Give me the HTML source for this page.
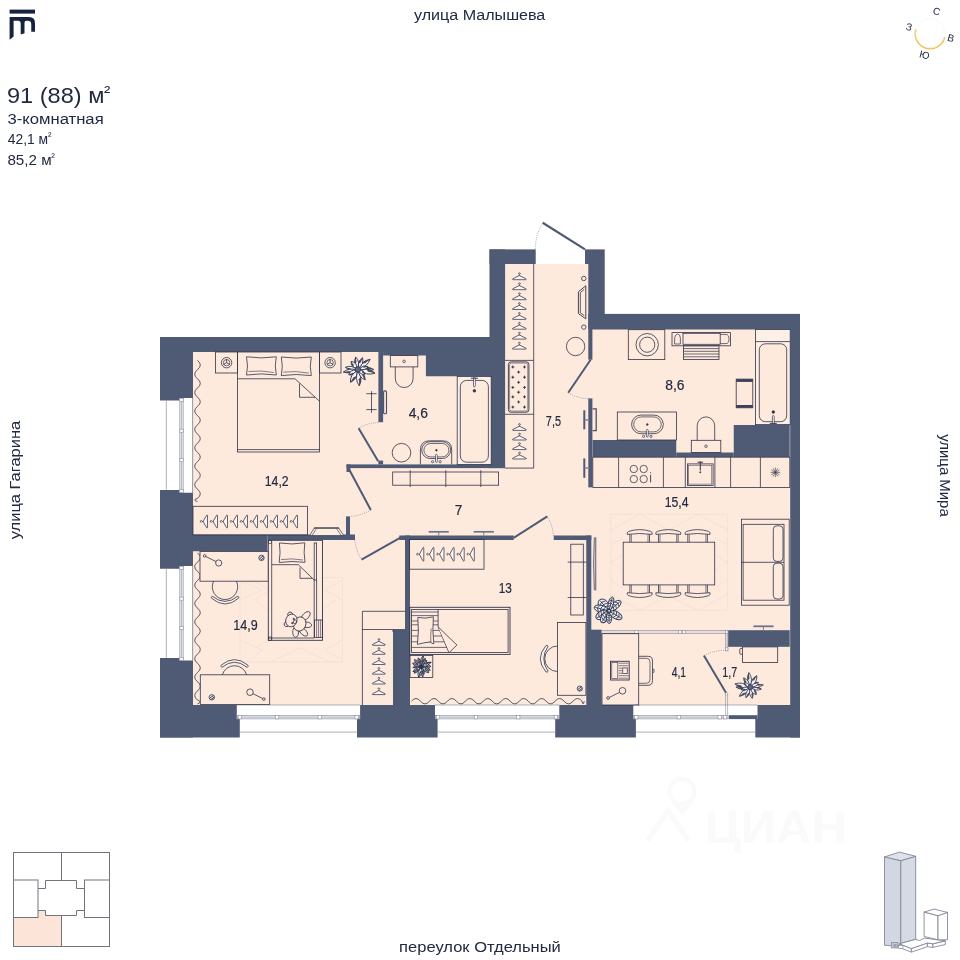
<!DOCTYPE html>
<html><head><meta charset="utf-8"><title>plan</title>
<style>
html,body{margin:0;padding:0;background:#fff;}
body{width:960px;height:960px;overflow:hidden;font-family:"Liberation Sans",sans-serif;}
svg{display:block;will-change:transform;}
svg text{font-family:"Liberation Sans",sans-serif;}
</style></head><body>
<svg width="960" height="960" viewBox="0 0 960 960">
<rect x="0" y="0" width="960" height="960" fill="#ffffff"/>
<polygon points="160.00,337.00 489.50,337.00 489.50,249.40 604.70,249.40 604.70,314.30 800.00,314.30 800.00,705.00 160.00,705.00" fill="#fee9dd" stroke="none" stroke-width="0"/>
<rect x="535.70" y="240.00" width="49.30" height="24.00" fill="#ffffff" />
<rect x="160.00" y="337.00" width="33.00" height="400.50" fill="#4f5b75" />
<polygon points="160.00,337.00 490.00,337.00 490.00,376.25 425.90,376.25 425.90,355.60 383.10,355.60 383.10,351.90 160.00,351.90" fill="#4f5b75" stroke="none" stroke-width="0"/>
<rect x="489.50" y="249.40" width="15.60" height="218.70" fill="#4f5b75" />
<rect x="489.50" y="249.40" width="46.20" height="14.60" fill="#4f5b75" />
<rect x="585.00" y="249.40" width="19.70" height="14.60" fill="#4f5b75" />
<rect x="588.30" y="264.00" width="16.40" height="50.30" fill="#4f5b75" />
<rect x="588.30" y="314.30" width="4.10" height="45.40" fill="#4f5b75" />
<rect x="588.30" y="398.40" width="4.10" height="89.00" fill="#4f5b75" />
<rect x="588.30" y="313.90" width="211.70" height="15.60" fill="#4f5b75" />
<rect x="790.20" y="314.30" width="9.80" height="423.20" fill="#4f5b75" />
<rect x="733.75" y="425.00" width="55.95" height="32.00" fill="#4f5b75" />
<rect x="592.60" y="440.00" width="83.65" height="17.00" fill="#4f5b75" />
<rect x="676.25" y="452.50" width="57.50" height="4.50" fill="#4f5b75" />
<rect x="378.40" y="351.90" width="4.70" height="70.30" fill="#4f5b75" />
<rect x="378.40" y="460.60" width="4.70" height="3.80" fill="#4f5b75" />
<rect x="346.50" y="464.40" width="158.60" height="3.70" fill="#4f5b75" />
<rect x="346.50" y="464.40" width="3.80" height="7.60" fill="#4f5b75" />
<rect x="346.00" y="516.40" width="4.00" height="18.60" fill="#4f5b75" />
<rect x="160.00" y="534.50" width="107.50" height="16.75" fill="#4f5b75" />
<rect x="267.50" y="534.50" width="87.50" height="5.50" fill="#4f5b75" />
<rect x="399.25" y="535.50" width="114.50" height="4.50" fill="#4f5b75" />
<rect x="405.00" y="535.50" width="5.00" height="94.50" fill="#4f5b75" />
<rect x="393.00" y="630.00" width="17.00" height="75.00" fill="#4f5b75" />
<rect x="553.75" y="535.50" width="37.55" height="4.50" fill="#4f5b75" />
<rect x="586.30" y="535.50" width="5.00" height="94.50" fill="#4f5b75" />
<rect x="586.30" y="629.70" width="15.40" height="75.30" fill="#4f5b75" />
<rect x="728.10" y="630.20" width="61.60" height="16.60" fill="#4f5b75" />
<polygon points="160.00,705.00 236.80,705.00 236.80,719.10 239.80,719.10 239.80,737.50 160.00,737.50" fill="#4f5b75" stroke="none" stroke-width="0"/>
<polygon points="360.10,705.00 435.00,705.00 435.00,719.10 437.60,719.10 437.60,737.50 357.00,737.50 357.00,719.10 360.10,719.10" fill="#4f5b75" stroke="none" stroke-width="0"/>
<polygon points="559.30,705.00 633.30,705.00 633.30,719.10 635.90,719.10 635.90,737.50 555.20,737.50 555.20,719.10 559.30,719.10" fill="#4f5b75" stroke="none" stroke-width="0"/>
<polygon points="757.50,705.00 800.00,705.00 800.00,737.50 755.30,737.50 755.30,719.10 757.50,719.10" fill="#4f5b75" stroke="none" stroke-width="0"/>
<rect x="729.00" y="715.20" width="28.50" height="3.90" fill="#4f5b75" />
<polygon points="159.00,400.60 179.50,400.60 179.50,398.00 192.60,398.00 192.60,492.80 179.50,492.80 179.50,489.90 159.00,489.90" fill="#ffffff" stroke="none" stroke-width="0"/>
<line x1="166.30" y1="400.60" x2="166.30" y2="489.90" stroke="#8b8f9c" stroke-width="0.7" />
<line x1="192.70" y1="398.00" x2="192.70" y2="492.80" stroke="#8b8f9c" stroke-width="0.7" />
<rect x="179.80" y="398.30" width="3.40" height="94.20" fill="#e6e8ef" stroke="#8b8f9c" stroke-width="0.6" rx="0"/>
<line x1="181.50" y1="398.00" x2="181.50" y2="492.80" stroke="#8b8f9c" stroke-width="0.5" />
<rect x="179.80" y="398.30" width="3.40" height="3.00" fill="#ffffff" stroke="#8b8f9c" stroke-width="0.6" rx="0"/>
<rect x="179.80" y="429.21" width="3.40" height="3.00" fill="#ffffff" stroke="#8b8f9c" stroke-width="0.6" rx="0"/>
<rect x="179.80" y="458.59" width="3.40" height="3.00" fill="#ffffff" stroke="#8b8f9c" stroke-width="0.6" rx="0"/>
<rect x="179.80" y="489.50" width="3.40" height="3.00" fill="#ffffff" stroke="#8b8f9c" stroke-width="0.6" rx="0"/>
<polygon points="159.00,568.70 179.50,568.70 179.50,566.00 192.60,566.00 192.60,660.60 179.50,660.60 179.50,658.00 159.00,658.00" fill="#ffffff" stroke="none" stroke-width="0"/>
<line x1="166.30" y1="568.70" x2="166.30" y2="658.00" stroke="#8b8f9c" stroke-width="0.7" />
<line x1="192.70" y1="566.00" x2="192.70" y2="660.60" stroke="#8b8f9c" stroke-width="0.7" />
<rect x="179.80" y="566.30" width="3.40" height="94.00" fill="#e6e8ef" stroke="#8b8f9c" stroke-width="0.6" rx="0"/>
<line x1="181.50" y1="566.00" x2="181.50" y2="660.60" stroke="#8b8f9c" stroke-width="0.5" />
<rect x="179.80" y="566.30" width="3.40" height="3.00" fill="#ffffff" stroke="#8b8f9c" stroke-width="0.6" rx="0"/>
<rect x="179.80" y="597.14" width="3.40" height="3.00" fill="#ffffff" stroke="#8b8f9c" stroke-width="0.6" rx="0"/>
<rect x="179.80" y="626.46" width="3.40" height="3.00" fill="#ffffff" stroke="#8b8f9c" stroke-width="0.6" rx="0"/>
<rect x="179.80" y="657.30" width="3.40" height="3.00" fill="#ffffff" stroke="#8b8f9c" stroke-width="0.6" rx="0"/>
<line x1="236.80" y1="705.00" x2="360.10" y2="705.00" stroke="#8b8f9c" stroke-width="0.7" />
<line x1="239.80" y1="732.10" x2="357.00" y2="732.10" stroke="#8b8f9c" stroke-width="0.7" />
<rect x="237.10" y="715.40" width="122.70" height="3.50" fill="#e6e8ef" stroke="#8b8f9c" stroke-width="0.6" rx="0"/>
<line x1="236.80" y1="717.15" x2="360.10" y2="717.15" stroke="#8b8f9c" stroke-width="0.5" />
<rect x="238.10" y="715.40" width="3.40" height="3.50" fill="#ffffff" stroke="#8b8f9c" stroke-width="0.6" rx="0"/>
<rect x="275.40" y="715.40" width="3.40" height="3.50" fill="#ffffff" stroke="#8b8f9c" stroke-width="0.6" rx="0"/>
<rect x="318.10" y="715.40" width="3.40" height="3.50" fill="#ffffff" stroke="#8b8f9c" stroke-width="0.6" rx="0"/>
<rect x="355.00" y="715.40" width="3.40" height="3.50" fill="#ffffff" stroke="#8b8f9c" stroke-width="0.6" rx="0"/>
<line x1="435.00" y1="705.00" x2="559.30" y2="705.00" stroke="#8b8f9c" stroke-width="0.7" />
<line x1="437.60" y1="732.10" x2="555.20" y2="732.10" stroke="#8b8f9c" stroke-width="0.7" />
<rect x="435.30" y="715.40" width="123.70" height="3.50" fill="#e6e8ef" stroke="#8b8f9c" stroke-width="0.6" rx="0"/>
<line x1="435.00" y1="717.15" x2="559.30" y2="717.15" stroke="#8b8f9c" stroke-width="0.5" />
<rect x="436.30" y="715.40" width="3.40" height="3.50" fill="#ffffff" stroke="#8b8f9c" stroke-width="0.6" rx="0"/>
<rect x="474.20" y="715.40" width="3.40" height="3.50" fill="#ffffff" stroke="#8b8f9c" stroke-width="0.6" rx="0"/>
<rect x="516.50" y="715.40" width="3.40" height="3.50" fill="#ffffff" stroke="#8b8f9c" stroke-width="0.6" rx="0"/>
<rect x="554.20" y="715.40" width="3.40" height="3.50" fill="#ffffff" stroke="#8b8f9c" stroke-width="0.6" rx="0"/>
<line x1="633.30" y1="705.00" x2="757.50" y2="705.00" stroke="#8b8f9c" stroke-width="0.7" />
<line x1="635.90" y1="732.10" x2="755.30" y2="732.10" stroke="#8b8f9c" stroke-width="0.7" />
<rect x="633.60" y="715.40" width="94.60" height="3.50" fill="#e6e8ef" stroke="#8b8f9c" stroke-width="0.6" rx="0"/>
<line x1="633.30" y1="717.15" x2="728.50" y2="717.15" stroke="#8b8f9c" stroke-width="0.5" />
<rect x="634.60" y="715.40" width="3.40" height="3.50" fill="#ffffff" stroke="#8b8f9c" stroke-width="0.6" rx="0"/>
<rect x="677.10" y="715.40" width="3.40" height="3.50" fill="#ffffff" stroke="#8b8f9c" stroke-width="0.6" rx="0"/>
<rect x="717.90" y="715.40" width="3.40" height="3.50" fill="#ffffff" stroke="#8b8f9c" stroke-width="0.6" rx="0"/>
<rect x="723.40" y="715.40" width="3.40" height="3.50" fill="#ffffff" stroke="#8b8f9c" stroke-width="0.6" rx="0"/>
<path d="M 197.50 360.40 Q 203.10 365.00 197.50 369.60 Q 191.90 374.20 197.50 378.80 Q 203.10 383.40 197.50 388.00 Q 191.90 392.60 197.50 397.20 Q 203.10 401.80 197.50 406.40 Q 191.90 411.00 197.50 415.60 Q 203.10 420.20 197.50 424.80 Q 191.90 429.40 197.50 434.00 Q 203.10 438.60 197.50 443.20 Q 191.90 447.80 197.50 452.40 Q 203.10 457.00 197.50 461.60 Q 191.90 466.20 197.50 470.80 Q 203.10 475.40 197.50 480.00 Q 191.90 484.60 197.50 489.20 Q 203.10 493.80 197.50 498.40 Q 191.90 499.95 197.50 501.50 " fill="none" stroke="#2f3349" stroke-width="0.8" />
<rect x="215.50" y="352.00" width="22.00" height="21.00" fill="none" stroke="#2f3349" stroke-width="0.8" rx="0"/>
<rect x="319.50" y="352.00" width="21.50" height="21.00" fill="none" stroke="#2f3349" stroke-width="0.8" rx="0"/>
<circle cx="226.60" cy="362.70" r="5.20" fill="none" stroke="#2f3349" stroke-width="0.8"/>
<circle cx="226.60" cy="362.70" r="3.20" fill="none" stroke="#2f3349" stroke-width="0.7"/>
<line x1="226.60" y1="362.70" x2="226.60" y2="359.10" stroke="#2f3349" stroke-width="0.8" />
<line x1="226.60" y1="362.70" x2="223.48" y2="364.50" stroke="#2f3349" stroke-width="0.8" />
<line x1="226.60" y1="362.70" x2="229.72" y2="364.50" stroke="#2f3349" stroke-width="0.8" />
<circle cx="330.10" cy="362.70" r="5.20" fill="none" stroke="#2f3349" stroke-width="0.8"/>
<circle cx="330.10" cy="362.70" r="3.20" fill="none" stroke="#2f3349" stroke-width="0.7"/>
<line x1="330.10" y1="362.70" x2="330.10" y2="359.10" stroke="#2f3349" stroke-width="0.8" />
<line x1="330.10" y1="362.70" x2="326.98" y2="364.50" stroke="#2f3349" stroke-width="0.8" />
<line x1="330.10" y1="362.70" x2="333.22" y2="364.50" stroke="#2f3349" stroke-width="0.8" />
<rect x="237.50" y="352.00" width="82.00" height="100.00" fill="none" stroke="#2f3349" stroke-width="0.8" rx="0"/>
<line x1="237.50" y1="449.60" x2="319.50" y2="449.60" stroke="#2f3349" stroke-width="0.8" />
<path d="M 237.5 378.8 L 295 378.8 L 319.3 401" fill="none" stroke="#2f3349" stroke-width="0.8" />
<path d="M 299.5 383.5 L 299.5 397.3 L 315 397.3" fill="none" stroke="#2f3349" stroke-width="0.8" />
<path d="M 246.50 356.80 Q 261.40 359.00 276.30 356.80 Q 274.30 365.90 276.30 375.00 Q 261.40 372.80 246.50 375.00 Q 248.50 365.90 246.50 356.80 Z" fill="none" stroke="#2f3349" stroke-width="0.8" stroke-linejoin="round"/>
<path d="M 248.50 371.50 Q 261.40 370.00 273.80 372.50" fill="none" stroke="#2f3349" stroke-width="0.6" />
<path d="M 281.30 357.00 Q 296.30 359.20 311.30 357.00 Q 309.30 366.30 311.30 375.60 Q 296.30 373.40 281.30 375.60 Q 283.30 366.30 281.30 357.00 Z" fill="none" stroke="#2f3349" stroke-width="0.8" stroke-linejoin="round"/>
<path d="M 283.30 372.10 Q 296.30 370.60 308.80 373.10" fill="none" stroke="#2f3349" stroke-width="0.6" />
<g transform="translate(357.90,369.50) rotate(0) scale(1.06)"><g transform="rotate(0)"><path d="M 1.5 0 Q 8.25 -4.16 15.00 0 Q 8.25 4.16 1.5 0 Z" fill="#f4f1f3" stroke="#2f3349" stroke-width="0.8"/><path d="M 6.75 -1.95 Q 10.50 -2.60 15.00 0 L 9.00 0 Z" fill="#2f3349" stroke="none" opacity="0.85"/></g><g transform="rotate(12)"><path d="M 1.5 0 Q 9.08 -4.48 16.50 0 Q 9.08 4.48 1.5 0 Z" fill="#f4f1f3" stroke="#2f3349" stroke-width="0.8"/><path d="M 7.42 -2.10 Q 11.55 -2.80 16.50 0 L 9.90 0 Z" fill="#2f3349" stroke="none" opacity="0.85"/></g><g transform="rotate(-40)"><path d="M 1.5 0 Q 8.25 -3.84 15.00 0 Q 8.25 3.84 1.5 0 Z" fill="#f4f1f3" stroke="#2f3349" stroke-width="0.8"/><path d="M 6.75 -1.80 Q 10.50 -2.40 15.00 0 L 9.00 0 Z" fill="#2f3349" stroke="none" opacity="0.85"/></g><g transform="rotate(-68)"><path d="M 1.5 0 Q 6.60 -3.52 12.00 0 Q 6.60 3.52 1.5 0 Z" fill="#f4f1f3" stroke="#2f3349" stroke-width="0.8"/><path d="M 5.40 -1.65 Q 8.40 -2.20 12.00 0 L 7.20 0 Z" fill="#2f3349" stroke="none" opacity="0.85"/></g><g transform="rotate(-100)"><path d="M 1.5 0 Q 6.60 -3.52 12.00 0 Q 6.60 3.52 1.5 0 Z" fill="#f4f1f3" stroke="#2f3349" stroke-width="0.8"/><path d="M 5.40 -1.65 Q 8.40 -2.20 12.00 0 L 7.20 0 Z" fill="#2f3349" stroke="none" opacity="0.85"/></g><g transform="rotate(-130)"><path d="M 1.5 0 Q 5.50 -3.84 10.00 0 Q 5.50 3.84 1.5 0 Z" fill="#f4f1f3" stroke="#2f3349" stroke-width="0.8"/><path d="M 4.50 -1.80 Q 7.00 -2.40 10.00 0 L 6.00 0 Z" fill="#2f3349" stroke="none" opacity="0.85"/></g><g transform="rotate(-170)"><path d="M 1.5 0 Q 6.60 -3.52 12.00 0 Q 6.60 3.52 1.5 0 Z" fill="#f4f1f3" stroke="#2f3349" stroke-width="0.8"/><path d="M 5.40 -1.65 Q 8.40 -2.20 12.00 0 L 7.20 0 Z" fill="#2f3349" stroke="none" opacity="0.85"/></g><g transform="rotate(170)"><path d="M 1.5 0 Q 7.70 -3.20 14.00 0 Q 7.70 3.20 1.5 0 Z" fill="#f4f1f3" stroke="#2f3349" stroke-width="0.8"/><path d="M 6.30 -1.50 Q 9.80 -2.00 14.00 0 L 8.40 0 Z" fill="#2f3349" stroke="none" opacity="0.85"/></g><g transform="rotate(150)"><path d="M 1.5 0 Q 5.50 -3.84 10.00 0 Q 5.50 3.84 1.5 0 Z" fill="#f4f1f3" stroke="#2f3349" stroke-width="0.8"/><path d="M 4.50 -1.80 Q 7.00 -2.40 10.00 0 L 6.00 0 Z" fill="#2f3349" stroke="none" opacity="0.85"/></g><g transform="rotate(120)"><path d="M 1.5 0 Q 7.70 -4.16 14.00 0 Q 7.70 4.16 1.5 0 Z" fill="#f4f1f3" stroke="#2f3349" stroke-width="0.8"/><path d="M 6.30 -1.95 Q 9.80 -2.60 14.00 0 L 8.40 0 Z" fill="#2f3349" stroke="none" opacity="0.85"/></g><g transform="rotate(85)"><path d="M 1.5 0 Q 8.53 -4.16 15.50 0 Q 8.53 4.16 1.5 0 Z" fill="#f4f1f3" stroke="#2f3349" stroke-width="0.8"/><path d="M 6.98 -1.95 Q 10.85 -2.60 15.50 0 L 9.30 0 Z" fill="#2f3349" stroke="none" opacity="0.85"/></g><g transform="rotate(55)"><path d="M 1.5 0 Q 6.60 -3.52 12.00 0 Q 6.60 3.52 1.5 0 Z" fill="#f4f1f3" stroke="#2f3349" stroke-width="0.8"/><path d="M 5.40 -1.65 Q 8.40 -2.20 12.00 0 L 7.20 0 Z" fill="#2f3349" stroke="none" opacity="0.85"/></g><g transform="rotate(-15)"><path d="M 1.5 0 Q 5.50 -3.20 10.00 0 Q 5.50 3.20 1.5 0 Z" fill="#f4f1f3" stroke="#2f3349" stroke-width="0.8"/><path d="M 4.50 -1.50 Q 7.00 -2.00 10.00 0 L 6.00 0 Z" fill="#2f3349" stroke="none" opacity="0.85"/></g><g transform="rotate(35)"><path d="M 1.5 0 Q 4.40 -3.20 8.00 0 Q 4.40 3.20 1.5 0 Z" fill="#f4f1f3" stroke="#2f3349" stroke-width="0.8"/><path d="M 3.60 -1.50 Q 5.60 -2.00 8.00 0 L 4.80 0 Z" fill="#2f3349" stroke="none" opacity="0.85"/></g><circle cx="0" cy="0" r="2.6" fill="#5b657f" stroke="#2f3349" stroke-width="0.6"/></g>
<line x1="371.50" y1="391.20" x2="371.50" y2="412.80" stroke="#2f3349" stroke-width="0.8" />
<line x1="366.30" y1="393.70" x2="376.60" y2="393.70" stroke="#2f3349" stroke-width="0.8" />
<line x1="366.30" y1="409.60" x2="376.60" y2="409.60" stroke="#2f3349" stroke-width="0.8" />
<rect x="193.00" y="506.30" width="114.50" height="28.70" fill="none" stroke="#2f3349" stroke-width="0.8" rx="0"/>
<g transform="translate(205.30,521.50) rotate(-90)"><path d="M -6.20 1.30 L 0 -2.20 L 6.20 1.30 Q 7.10 1.90 6.10 2.20 L -6.10 2.20 Q -7.10 1.90 -6.20 1.30 Z" fill="#fff4ee" stroke="#2f3349" stroke-width="0.75" stroke-linejoin="round"/><path d="M 0 -2.20 L 0 -3.10 C 1.5 -3.50 1.3 -5.10 0 -5.00 C -0.7 -4.95 -1.0 -4.55 -0.9 -4.20" fill="none" stroke="#2f3349" stroke-width="0.75" stroke-linecap="round"/></g>
<g transform="translate(215.30,521.50) rotate(-90)"><path d="M -6.20 1.30 L 0 -2.20 L 6.20 1.30 Q 7.10 1.90 6.10 2.20 L -6.10 2.20 Q -7.10 1.90 -6.20 1.30 Z" fill="#fff4ee" stroke="#2f3349" stroke-width="0.75" stroke-linejoin="round"/><path d="M 0 -2.20 L 0 -3.10 C 1.5 -3.50 1.3 -5.10 0 -5.00 C -0.7 -4.95 -1.0 -4.55 -0.9 -4.20" fill="none" stroke="#2f3349" stroke-width="0.75" stroke-linecap="round"/></g>
<g transform="translate(225.30,521.50) rotate(-90)"><path d="M -6.20 1.30 L 0 -2.20 L 6.20 1.30 Q 7.10 1.90 6.10 2.20 L -6.10 2.20 Q -7.10 1.90 -6.20 1.30 Z" fill="#fff4ee" stroke="#2f3349" stroke-width="0.75" stroke-linejoin="round"/><path d="M 0 -2.20 L 0 -3.10 C 1.5 -3.50 1.3 -5.10 0 -5.00 C -0.7 -4.95 -1.0 -4.55 -0.9 -4.20" fill="none" stroke="#2f3349" stroke-width="0.75" stroke-linecap="round"/></g>
<g transform="translate(235.30,521.50) rotate(-90)"><path d="M -6.20 1.30 L 0 -2.20 L 6.20 1.30 Q 7.10 1.90 6.10 2.20 L -6.10 2.20 Q -7.10 1.90 -6.20 1.30 Z" fill="#fff4ee" stroke="#2f3349" stroke-width="0.75" stroke-linejoin="round"/><path d="M 0 -2.20 L 0 -3.10 C 1.5 -3.50 1.3 -5.10 0 -5.00 C -0.7 -4.95 -1.0 -4.55 -0.9 -4.20" fill="none" stroke="#2f3349" stroke-width="0.75" stroke-linecap="round"/></g>
<g transform="translate(245.30,521.50) rotate(-90)"><path d="M -6.20 1.30 L 0 -2.20 L 6.20 1.30 Q 7.10 1.90 6.10 2.20 L -6.10 2.20 Q -7.10 1.90 -6.20 1.30 Z" fill="#fff4ee" stroke="#2f3349" stroke-width="0.75" stroke-linejoin="round"/><path d="M 0 -2.20 L 0 -3.10 C 1.5 -3.50 1.3 -5.10 0 -5.00 C -0.7 -4.95 -1.0 -4.55 -0.9 -4.20" fill="none" stroke="#2f3349" stroke-width="0.75" stroke-linecap="round"/></g>
<g transform="translate(255.30,521.50) rotate(-90)"><path d="M -6.20 1.30 L 0 -2.20 L 6.20 1.30 Q 7.10 1.90 6.10 2.20 L -6.10 2.20 Q -7.10 1.90 -6.20 1.30 Z" fill="#fff4ee" stroke="#2f3349" stroke-width="0.75" stroke-linejoin="round"/><path d="M 0 -2.20 L 0 -3.10 C 1.5 -3.50 1.3 -5.10 0 -5.00 C -0.7 -4.95 -1.0 -4.55 -0.9 -4.20" fill="none" stroke="#2f3349" stroke-width="0.75" stroke-linecap="round"/></g>
<g transform="translate(265.30,521.50) rotate(-90)"><path d="M -6.20 1.30 L 0 -2.20 L 6.20 1.30 Q 7.10 1.90 6.10 2.20 L -6.10 2.20 Q -7.10 1.90 -6.20 1.30 Z" fill="#fff4ee" stroke="#2f3349" stroke-width="0.75" stroke-linejoin="round"/><path d="M 0 -2.20 L 0 -3.10 C 1.5 -3.50 1.3 -5.10 0 -5.00 C -0.7 -4.95 -1.0 -4.55 -0.9 -4.20" fill="none" stroke="#2f3349" stroke-width="0.75" stroke-linecap="round"/></g>
<g transform="translate(275.30,521.50) rotate(-90)"><path d="M -6.20 1.30 L 0 -2.20 L 6.20 1.30 Q 7.10 1.90 6.10 2.20 L -6.10 2.20 Q -7.10 1.90 -6.20 1.30 Z" fill="#fff4ee" stroke="#2f3349" stroke-width="0.75" stroke-linejoin="round"/><path d="M 0 -2.20 L 0 -3.10 C 1.5 -3.50 1.3 -5.10 0 -5.00 C -0.7 -4.95 -1.0 -4.55 -0.9 -4.20" fill="none" stroke="#2f3349" stroke-width="0.75" stroke-linecap="round"/></g>
<g transform="translate(285.30,521.50) rotate(-90)"><path d="M -6.20 1.30 L 0 -2.20 L 6.20 1.30 Q 7.10 1.90 6.10 2.20 L -6.10 2.20 Q -7.10 1.90 -6.20 1.30 Z" fill="#fff4ee" stroke="#2f3349" stroke-width="0.75" stroke-linejoin="round"/><path d="M 0 -2.20 L 0 -3.10 C 1.5 -3.50 1.3 -5.10 0 -5.00 C -0.7 -4.95 -1.0 -4.55 -0.9 -4.20" fill="none" stroke="#2f3349" stroke-width="0.75" stroke-linecap="round"/></g>
<g transform="translate(295.30,521.50) rotate(-90)"><path d="M -6.20 1.30 L 0 -2.20 L 6.20 1.30 Q 7.10 1.90 6.10 2.20 L -6.10 2.20 Q -7.10 1.90 -6.20 1.30 Z" fill="#fff4ee" stroke="#2f3349" stroke-width="0.75" stroke-linejoin="round"/><path d="M 0 -2.20 L 0 -3.10 C 1.5 -3.50 1.3 -5.10 0 -5.00 C -0.7 -4.95 -1.0 -4.55 -0.9 -4.20" fill="none" stroke="#2f3349" stroke-width="0.75" stroke-linecap="round"/></g>
<path d="M 309.5 535.6 L 314.4 527.9 L 338.6 527.9 L 343.8 535.6 Z" fill="#fdeee2" stroke="#2f3349" stroke-width="0.7" />
<path d="M 312 535.6 L 316.4 528.6 M 341.2 535.6 L 336.6 528.6" fill="none" stroke="#2f3349" stroke-width="0.6" />
<line x1="314.00" y1="528.10" x2="339.00" y2="528.10" stroke="#4d4f63" stroke-width="1.3" />
<line x1="349.20" y1="469.50" x2="370.80" y2="510.00" stroke="#4f5b75" stroke-width="2.0" stroke-linecap="butt"/>
<path d="M 370.80 510.00 A 45.90 45.90 0 0 1 350.00 516.40" fill="none" stroke="#6a738a" stroke-width="0.6" stroke-dasharray="1 1.2"/>
<text x="264.78" y="485.60" font-size="14.00" textLength="23.95" lengthAdjust="spacingAndGlyphs" fill="#222a42" stroke="#222a42" stroke-width="0.18" >14,2</text>
<rect x="383.60" y="390.90" width="2.90" height="22.90" fill="none" stroke="#4d4f63" stroke-width="1.1" rx="1.0"/>
<rect x="390.30" y="355.60" width="27.50" height="11.30" fill="none" stroke="#2f3349" stroke-width="0.8" rx="0"/>
<circle cx="404.10" cy="361.40" r="1.30" fill="none" stroke="#2f3349" stroke-width="0.7"/>
<path d="M 395.3 366.9 L 395.3 378.6 A 8.9 8.9 0 0 0 413.1 378.6 L 413.1 366.9" fill="none" stroke="#2f3349" stroke-width="0.8" />
<circle cx="401.50" cy="452.70" r="9.30" fill="none" stroke="#2f3349" stroke-width="0.8"/>
<path d="M 420.4 464.4 L 420.4 450 Q 420.4 440.8 429.6 440.8 L 442.5 440.8 Q 451.7 440.8 451.7 450 L 451.7 464.4" fill="none" stroke="#2f3349" stroke-width="0.8" />
<rect x="421.70" y="441.70" width="29.00" height="16.80" fill="none" stroke="#2f3349" stroke-width="0.8" rx="8.4"/>
<rect x="423.90" y="443.50" width="25.00" height="13.40" fill="none" stroke="#2f3349" stroke-width="0.7" rx="6.7"/>
<circle cx="436.40" cy="450.20" r="1.00" fill="#2f3349" stroke="#2f3349" stroke-width="0.3"/>
<rect x="435.50" y="454.40" width="1.80" height="8.00" fill="#ffffff" stroke="#2f3349" stroke-width="0.7" rx="0.9"/>
<circle cx="432.60" cy="461.70" r="1.10" fill="none" stroke="#2f3349" stroke-width="0.7"/>
<circle cx="440.20" cy="461.70" r="1.10" fill="none" stroke="#2f3349" stroke-width="0.7"/>
<rect x="457.20" y="376.40" width="34.00" height="88.00" fill="#fdeee6" stroke="#2f3349" stroke-width="0.8" rx="0"/>
<rect x="460.30" y="380.40" width="28.10" height="81.80" fill="#fee9dd" stroke="#2f3349" stroke-width="0.8" rx="6.3"/>
<circle cx="474.40" cy="390.80" r="1.50" fill="#2f3349" stroke="#2f3349" stroke-width="0.3"/>
<rect x="473.50" y="377.20" width="1.80" height="9.60" fill="#ffffff" stroke="#2f3349" stroke-width="0.7" rx="0.9"/>
<line x1="470.80" y1="378.20" x2="478.00" y2="378.20" stroke="#2f3349" stroke-width="0.9" />
<line x1="378.20" y1="461.30" x2="358.60" y2="428.20" stroke="#4f5b75" stroke-width="2.0" stroke-linecap="butt"/>
<path d="M 358.60 428.20 A 38.47 38.47 0 0 1 378.40 422.60" fill="none" stroke="#6a738a" stroke-width="0.6" stroke-dasharray="1 1.2"/>
<text x="408.65" y="418.10" font-size="14.00" textLength="19.27" lengthAdjust="spacingAndGlyphs" fill="#222a42" stroke="#222a42" stroke-width="0.18" >4,6</text>
<line x1="533.70" y1="264.00" x2="533.70" y2="468.10" stroke="#2f3349" stroke-width="0.8" />
<line x1="505.10" y1="360.40" x2="533.70" y2="360.40" stroke="#2f3349" stroke-width="0.8" />
<line x1="505.10" y1="414.30" x2="533.70" y2="414.30" stroke="#2f3349" stroke-width="0.8" />
<line x1="505.10" y1="468.10" x2="533.70" y2="468.10" stroke="#2f3349" stroke-width="0.8" />
<g transform="translate(519.30,277.60) rotate(0)"><path d="M -6.60 1.20 L 0 -2.10 L 6.60 1.20 Q 7.50 1.80 6.50 2.10 L -6.50 2.10 Q -7.50 1.80 -6.60 1.20 Z" fill="#fff4ee" stroke="#2f3349" stroke-width="0.75" stroke-linejoin="round"/><path d="M 0 -2.10 L 0 -3.00 C 1.5 -3.40 1.3 -4.80 0 -4.70 C -0.7 -4.65 -1.0 -4.25 -0.9 -3.90" fill="none" stroke="#2f3349" stroke-width="0.75" stroke-linecap="round"/></g>
<g transform="translate(519.30,287.60) rotate(0)"><path d="M -6.60 1.20 L 0 -2.10 L 6.60 1.20 Q 7.50 1.80 6.50 2.10 L -6.50 2.10 Q -7.50 1.80 -6.60 1.20 Z" fill="#fff4ee" stroke="#2f3349" stroke-width="0.75" stroke-linejoin="round"/><path d="M 0 -2.10 L 0 -3.00 C 1.5 -3.40 1.3 -4.80 0 -4.70 C -0.7 -4.65 -1.0 -4.25 -0.9 -3.90" fill="none" stroke="#2f3349" stroke-width="0.75" stroke-linecap="round"/></g>
<g transform="translate(519.30,297.60) rotate(0)"><path d="M -6.60 1.20 L 0 -2.10 L 6.60 1.20 Q 7.50 1.80 6.50 2.10 L -6.50 2.10 Q -7.50 1.80 -6.60 1.20 Z" fill="#fff4ee" stroke="#2f3349" stroke-width="0.75" stroke-linejoin="round"/><path d="M 0 -2.10 L 0 -3.00 C 1.5 -3.40 1.3 -4.80 0 -4.70 C -0.7 -4.65 -1.0 -4.25 -0.9 -3.90" fill="none" stroke="#2f3349" stroke-width="0.75" stroke-linecap="round"/></g>
<g transform="translate(519.30,307.40) rotate(0)"><path d="M -6.60 1.20 L 0 -2.10 L 6.60 1.20 Q 7.50 1.80 6.50 2.10 L -6.50 2.10 Q -7.50 1.80 -6.60 1.20 Z" fill="#fff4ee" stroke="#2f3349" stroke-width="0.75" stroke-linejoin="round"/><path d="M 0 -2.10 L 0 -3.00 C 1.5 -3.40 1.3 -4.80 0 -4.70 C -0.7 -4.65 -1.0 -4.25 -0.9 -3.90" fill="none" stroke="#2f3349" stroke-width="0.75" stroke-linecap="round"/></g>
<g transform="translate(519.30,317.30) rotate(0)"><path d="M -6.60 1.20 L 0 -2.10 L 6.60 1.20 Q 7.50 1.80 6.50 2.10 L -6.50 2.10 Q -7.50 1.80 -6.60 1.20 Z" fill="#fff4ee" stroke="#2f3349" stroke-width="0.75" stroke-linejoin="round"/><path d="M 0 -2.10 L 0 -3.00 C 1.5 -3.40 1.3 -4.80 0 -4.70 C -0.7 -4.65 -1.0 -4.25 -0.9 -3.90" fill="none" stroke="#2f3349" stroke-width="0.75" stroke-linecap="round"/></g>
<g transform="translate(519.30,327.10) rotate(0)"><path d="M -6.60 1.20 L 0 -2.10 L 6.60 1.20 Q 7.50 1.80 6.50 2.10 L -6.50 2.10 Q -7.50 1.80 -6.60 1.20 Z" fill="#fff4ee" stroke="#2f3349" stroke-width="0.75" stroke-linejoin="round"/><path d="M 0 -2.10 L 0 -3.00 C 1.5 -3.40 1.3 -4.80 0 -4.70 C -0.7 -4.65 -1.0 -4.25 -0.9 -3.90" fill="none" stroke="#2f3349" stroke-width="0.75" stroke-linecap="round"/></g>
<g transform="translate(519.30,337.00) rotate(0)"><path d="M -6.60 1.20 L 0 -2.10 L 6.60 1.20 Q 7.50 1.80 6.50 2.10 L -6.50 2.10 Q -7.50 1.80 -6.60 1.20 Z" fill="#fff4ee" stroke="#2f3349" stroke-width="0.75" stroke-linejoin="round"/><path d="M 0 -2.10 L 0 -3.00 C 1.5 -3.40 1.3 -4.80 0 -4.70 C -0.7 -4.65 -1.0 -4.25 -0.9 -3.90" fill="none" stroke="#2f3349" stroke-width="0.75" stroke-linecap="round"/></g>
<g transform="translate(519.30,347.00) rotate(0)"><path d="M -6.60 1.20 L 0 -2.10 L 6.60 1.20 Q 7.50 1.80 6.50 2.10 L -6.50 2.10 Q -7.50 1.80 -6.60 1.20 Z" fill="#fff4ee" stroke="#2f3349" stroke-width="0.75" stroke-linejoin="round"/><path d="M 0 -2.10 L 0 -3.00 C 1.5 -3.40 1.3 -4.80 0 -4.70 C -0.7 -4.65 -1.0 -4.25 -0.9 -3.90" fill="none" stroke="#2f3349" stroke-width="0.75" stroke-linecap="round"/></g>
<g transform="translate(519.40,428.30) rotate(0)"><path d="M -6.60 1.20 L 0 -2.10 L 6.60 1.20 Q 7.50 1.80 6.50 2.10 L -6.50 2.10 Q -7.50 1.80 -6.60 1.20 Z" fill="#fff4ee" stroke="#2f3349" stroke-width="0.75" stroke-linejoin="round"/><path d="M 0 -2.10 L 0 -3.00 C 1.5 -3.40 1.3 -4.80 0 -4.70 C -0.7 -4.65 -1.0 -4.25 -0.9 -3.90" fill="none" stroke="#2f3349" stroke-width="0.75" stroke-linecap="round"/></g>
<g transform="translate(519.40,437.90) rotate(0)"><path d="M -6.60 1.20 L 0 -2.10 L 6.60 1.20 Q 7.50 1.80 6.50 2.10 L -6.50 2.10 Q -7.50 1.80 -6.60 1.20 Z" fill="#fff4ee" stroke="#2f3349" stroke-width="0.75" stroke-linejoin="round"/><path d="M 0 -2.10 L 0 -3.00 C 1.5 -3.40 1.3 -4.80 0 -4.70 C -0.7 -4.65 -1.0 -4.25 -0.9 -3.90" fill="none" stroke="#2f3349" stroke-width="0.75" stroke-linecap="round"/></g>
<g transform="translate(519.40,447.50) rotate(0)"><path d="M -6.60 1.20 L 0 -2.10 L 6.60 1.20 Q 7.50 1.80 6.50 2.10 L -6.50 2.10 Q -7.50 1.80 -6.60 1.20 Z" fill="#fff4ee" stroke="#2f3349" stroke-width="0.75" stroke-linejoin="round"/><path d="M 0 -2.10 L 0 -3.00 C 1.5 -3.40 1.3 -4.80 0 -4.70 C -0.7 -4.65 -1.0 -4.25 -0.9 -3.90" fill="none" stroke="#2f3349" stroke-width="0.75" stroke-linecap="round"/></g>
<g transform="translate(519.40,456.90) rotate(0)"><path d="M -6.60 1.20 L 0 -2.10 L 6.60 1.20 Q 7.50 1.80 6.50 2.10 L -6.50 2.10 Q -7.50 1.80 -6.60 1.20 Z" fill="#fff4ee" stroke="#2f3349" stroke-width="0.75" stroke-linejoin="round"/><path d="M 0 -2.10 L 0 -3.00 C 1.5 -3.40 1.3 -4.80 0 -4.70 C -0.7 -4.65 -1.0 -4.25 -0.9 -3.90" fill="none" stroke="#2f3349" stroke-width="0.75" stroke-linecap="round"/></g>
<rect x="508.40" y="361.90" width="20.50" height="50.30" fill="none" stroke="#2f3349" stroke-width="0.9" rx="2.6"/>
<rect x="509.60" y="363.10" width="18.10" height="47.90" fill="none" stroke="#2f3349" stroke-width="0.5" rx="1.8"/>
<path d="M 511.3 367.0 L 514.3 367.0 M 512.8 365.5 L 512.8 368.5" fill="none" stroke="#2f3349" stroke-width="0.8" />
<circle cx="512.80" cy="367.00" r="0.55" fill="#2f3349" stroke="#2f3349" stroke-width="0.2"/>
<path d="M 511.3 377.2 L 514.3 377.2 M 512.8 375.7 L 512.8 378.7" fill="none" stroke="#2f3349" stroke-width="0.8" />
<circle cx="512.80" cy="377.20" r="0.55" fill="#2f3349" stroke="#2f3349" stroke-width="0.2"/>
<path d="M 511.3 387.4 L 514.3 387.4 M 512.8 385.9 L 512.8 388.9" fill="none" stroke="#2f3349" stroke-width="0.8" />
<circle cx="512.80" cy="387.40" r="0.55" fill="#2f3349" stroke="#2f3349" stroke-width="0.2"/>
<path d="M 511.3 396.9 L 514.3 396.9 M 512.8 395.4 L 512.8 398.4" fill="none" stroke="#2f3349" stroke-width="0.8" />
<circle cx="512.80" cy="396.90" r="0.55" fill="#2f3349" stroke="#2f3349" stroke-width="0.2"/>
<path d="M 511.3 407.1 L 514.3 407.1 M 512.8 405.6 L 512.8 408.6" fill="none" stroke="#2f3349" stroke-width="0.8" />
<circle cx="512.80" cy="407.10" r="0.55" fill="#2f3349" stroke="#2f3349" stroke-width="0.2"/>
<path d="M 523.0 367.0 L 526.0 367.0 M 524.5 365.5 L 524.5 368.5" fill="none" stroke="#2f3349" stroke-width="0.8" />
<circle cx="524.50" cy="367.00" r="0.55" fill="#2f3349" stroke="#2f3349" stroke-width="0.2"/>
<path d="M 523.0 377.2 L 526.0 377.2 M 524.5 375.7 L 524.5 378.7" fill="none" stroke="#2f3349" stroke-width="0.8" />
<circle cx="524.50" cy="377.20" r="0.55" fill="#2f3349" stroke="#2f3349" stroke-width="0.2"/>
<path d="M 523.0 387.4 L 526.0 387.4 M 524.5 385.9 L 524.5 388.9" fill="none" stroke="#2f3349" stroke-width="0.8" />
<circle cx="524.50" cy="387.40" r="0.55" fill="#2f3349" stroke="#2f3349" stroke-width="0.2"/>
<path d="M 523.0 396.9 L 526.0 396.9 M 524.5 395.4 L 524.5 398.4" fill="none" stroke="#2f3349" stroke-width="0.8" />
<circle cx="524.50" cy="396.90" r="0.55" fill="#2f3349" stroke="#2f3349" stroke-width="0.2"/>
<path d="M 523.0 407.1 L 526.0 407.1 M 524.5 405.6 L 524.5 408.6" fill="none" stroke="#2f3349" stroke-width="0.8" />
<circle cx="524.50" cy="407.10" r="0.55" fill="#2f3349" stroke="#2f3349" stroke-width="0.2"/>
<path d="M 517.1 372.1 L 520.1 372.1 M 518.6 370.6 L 518.6 373.6" fill="none" stroke="#2f3349" stroke-width="0.8" />
<circle cx="518.60" cy="372.10" r="0.55" fill="#2f3349" stroke="#2f3349" stroke-width="0.2"/>
<path d="M 517.1 382.3 L 520.1 382.3 M 518.6 380.8 L 518.6 383.8" fill="none" stroke="#2f3349" stroke-width="0.8" />
<circle cx="518.60" cy="382.30" r="0.55" fill="#2f3349" stroke="#2f3349" stroke-width="0.2"/>
<path d="M 517.1 392.2 L 520.1 392.2 M 518.6 390.7 L 518.6 393.7" fill="none" stroke="#2f3349" stroke-width="0.8" />
<circle cx="518.60" cy="392.20" r="0.55" fill="#2f3349" stroke="#2f3349" stroke-width="0.2"/>
<path d="M 517.1 402.0 L 520.1 402.0 M 518.6 400.5 L 518.6 403.5" fill="none" stroke="#2f3349" stroke-width="0.8" />
<circle cx="518.60" cy="402.00" r="0.55" fill="#2f3349" stroke="#2f3349" stroke-width="0.2"/>
<line x1="585.00" y1="249.40" x2="542.70" y2="222.80" stroke="#4f5b75" stroke-width="2.2" stroke-linecap="butt"/>
<path d="M 542.70 222.80 A 49.97 49.97 0 0 0 535.40 248.80" fill="none" stroke="#6a738a" stroke-width="0.6" stroke-dasharray="1 1.2"/>
<circle cx="583.80" cy="278.50" r="2.20" fill="none" stroke="#2f3349" stroke-width="0.8"/>
<circle cx="583.80" cy="327.10" r="2.20" fill="none" stroke="#2f3349" stroke-width="0.8"/>
<path d="M 585.8 285.8 L 578.4 291.8 L 578.4 313.6 L 585.8 318.8 Z" fill="none" stroke="#2f3349" stroke-width="0.9" />
<path d="M 584.3 289.3 L 580.3 292.6 L 580.3 312.8 L 584.3 315.6" fill="none" stroke="#2f3349" stroke-width="0.8" />
<circle cx="575.60" cy="346.50" r="9.20" fill="none" stroke="#2f3349" stroke-width="0.8"/>
<line x1="590.60" y1="359.80" x2="568.20" y2="392.80" stroke="#4f5b75" stroke-width="2.0" stroke-linecap="butt"/>
<path d="M 568.20 392.80 A 39.88 39.88 0 0 0 588.30 398.60" fill="none" stroke="#6a738a" stroke-width="0.6" stroke-dasharray="1 1.2"/>
<rect x="583.30" y="410.30" width="2.00" height="19.00" fill="#4f5b75" />
<line x1="585.30" y1="419.90" x2="588.30" y2="419.90" stroke="#4f5b75" stroke-width="1.0" />
<path d="M 592.6 408.8 L 596.2 408.8 L 596.2 430.6 L 592.6 430.6" fill="none" stroke="#4d4f63" stroke-width="1.3" />
<rect x="583.30" y="458.40" width="2.00" height="19.40" fill="#4f5b75" />
<line x1="585.30" y1="468.00" x2="588.30" y2="468.00" stroke="#4f5b75" stroke-width="1.0" />
<text x="545.85" y="425.75" font-size="14.00" textLength="15.18" lengthAdjust="spacingAndGlyphs" fill="#222a42" stroke="#222a42" stroke-width="0.18" >7,5</text>
<rect x="392.70" y="472.00" width="105.90" height="13.20" fill="none" stroke="#2f3349" stroke-width="0.8" rx="0"/>
<line x1="410.20" y1="470.20" x2="410.20" y2="487.00" stroke="#2f3349" stroke-width="0.8" />
<line x1="445.80" y1="470.20" x2="445.80" y2="487.00" stroke="#2f3349" stroke-width="0.8" />
<line x1="480.80" y1="470.20" x2="480.80" y2="487.00" stroke="#2f3349" stroke-width="0.8" />
<line x1="428.70" y1="531.80" x2="448.80" y2="531.80" stroke="#6f7389" stroke-width="1.7" />
<line x1="438.75" y1="531.80" x2="438.75" y2="535.50" stroke="#6f7389" stroke-width="0.9" />
<line x1="473.70" y1="531.80" x2="493.80" y2="531.80" stroke="#6f7389" stroke-width="1.7" />
<line x1="483.75" y1="531.80" x2="483.75" y2="535.50" stroke="#6f7389" stroke-width="0.9" />
<text x="454.81" y="514.70" font-size="14.00" textLength="7.70" lengthAdjust="spacingAndGlyphs" fill="#222a42" stroke="#222a42" stroke-width="0.18" >7</text>
<line x1="513.70" y1="537.80" x2="547.30" y2="516.40" stroke="#4f5b75" stroke-width="2.0" stroke-linecap="butt"/>
<path d="M 547.30 516.40 A 39.84 39.84 0 0 1 553.40 536.00" fill="none" stroke="#6a738a" stroke-width="0.6" stroke-dasharray="1 1.2"/>
<line x1="400.00" y1="537.80" x2="361.50" y2="559.60" stroke="#4f5b75" stroke-width="2.0" stroke-linecap="butt"/>
<path d="M 361.50 559.60 A 44.24 44.24 0 0 1 354.80 539.00" fill="none" stroke="#6a738a" stroke-width="0.6" stroke-dasharray="1 1.2"/>
<rect x="628.30" y="329.70" width="36.50" height="29.90" fill="none" stroke="#2f3349" stroke-width="0.8" rx="0"/>
<circle cx="647.20" cy="344.70" r="11.20" fill="none" stroke="#2f3349" stroke-width="0.8"/>
<circle cx="647.20" cy="344.70" r="7.60" fill="none" stroke="#2f3349" stroke-width="0.8"/>
<rect x="672.00" y="332.60" width="58.50" height="13.20" fill="none" stroke="#2f3349" stroke-width="0.8" rx="0"/>
<rect x="683.00" y="333.30" width="37.20" height="11.00" fill="none" stroke="#2f3349" stroke-width="0.8" rx="0"/>
<path d="M 674.6 344 L 674.6 338 Q 675.2 334.2 677.6 334 Q 680 334.2 680.4 338 L 680.4 344 Z" fill="none" stroke="#2f3349" stroke-width="0.7" />
<path d="M 720.2 334.4 L 726 334.4 Q 729 334.6 729 339 Q 729 343.6 726 343.6 L 720.2 343.6" fill="none" stroke="#2f3349" stroke-width="0.7" />
<rect x="683.60" y="345.80" width="35.40" height="13.80" fill="none" stroke="#2f3349" stroke-width="0.8" rx="0"/>
<line x1="683.60" y1="348.60" x2="719.00" y2="348.60" stroke="#2f3349" stroke-width="0.7" />
<line x1="683.60" y1="351.30" x2="719.00" y2="351.30" stroke="#2f3349" stroke-width="0.7" />
<line x1="683.60" y1="354.00" x2="719.00" y2="354.00" stroke="#2f3349" stroke-width="0.7" />
<line x1="683.60" y1="356.80" x2="719.00" y2="356.80" stroke="#2f3349" stroke-width="0.7" />
<rect x="736.20" y="379.10" width="16.60" height="28.70" fill="none" stroke="#2f3349" stroke-width="0.8" rx="0"/>
<rect x="736.20" y="379.10" width="16.60" height="2.80" fill="#3a4058" />
<rect x="736.20" y="405.00" width="16.60" height="2.80" fill="#3a4058" />
<rect x="755.50" y="329.50" width="34.70" height="95.10" fill="#fdeee6" stroke="#2f3349" stroke-width="0.8" rx="0"/>
<line x1="755.50" y1="341.60" x2="790.20" y2="341.60" stroke="#2f3349" stroke-width="0.8" />
<rect x="759.30" y="343.80" width="27.40" height="77.90" fill="#fee9dd" stroke="#2f3349" stroke-width="0.8" rx="6"/>
<circle cx="773.30" cy="411.90" r="1.50" fill="#2f3349" stroke="#2f3349" stroke-width="0.3"/>
<rect x="772.40" y="415.60" width="1.80" height="8.80" fill="#ffffff" stroke="#2f3349" stroke-width="0.7" rx="0.9"/>
<line x1="769.80" y1="423.40" x2="776.80" y2="423.40" stroke="#2f3349" stroke-width="0.9" />
<rect x="617.30" y="412.00" width="59.10" height="28.00" fill="none" stroke="#2f3349" stroke-width="0.8" rx="0"/>
<rect x="631.60" y="415.10" width="31.70" height="18.60" fill="none" stroke="#2f3349" stroke-width="0.8" rx="9.3"/>
<rect x="633.70" y="416.90" width="27.50" height="15.00" fill="none" stroke="#2f3349" stroke-width="0.7" rx="7.5"/>
<circle cx="647.30" cy="424.50" r="1.00" fill="#2f3349" stroke="#2f3349" stroke-width="0.3"/>
<rect x="646.40" y="429.40" width="1.80" height="7.60" fill="#ffffff" stroke="#2f3349" stroke-width="0.7" rx="0.9"/>
<circle cx="643.60" cy="436.40" r="1.10" fill="none" stroke="#2f3349" stroke-width="0.7"/>
<circle cx="651.00" cy="436.40" r="1.10" fill="none" stroke="#2f3349" stroke-width="0.7"/>
<rect x="691.30" y="440.30" width="29.50" height="12.10" fill="none" stroke="#2f3349" stroke-width="0.8" rx="0"/>
<circle cx="706.00" cy="446.20" r="1.30" fill="none" stroke="#2f3349" stroke-width="0.7"/>
<path d="M 697.2 440.3 L 697.2 425.8 A 8.75 8.9 0 0 1 714.7 425.8 L 714.7 440.3" fill="none" stroke="#2f3349" stroke-width="0.8" />
<text x="665.28" y="390.30" font-size="14.00" textLength="19.25" lengthAdjust="spacingAndGlyphs" fill="#222a42" stroke="#222a42" stroke-width="0.18" >8,6</text>
<rect x="592.80" y="457.20" width="197.00" height="30.20" fill="none" stroke="#2f3349" stroke-width="0.8" rx="0"/>
<line x1="618.60" y1="457.20" x2="618.60" y2="487.40" stroke="#2f3349" stroke-width="0.8" />
<line x1="663.40" y1="457.20" x2="663.40" y2="487.40" stroke="#2f3349" stroke-width="0.8" />
<line x1="685.30" y1="457.20" x2="685.30" y2="487.40" stroke="#2f3349" stroke-width="0.8" />
<line x1="714.90" y1="457.20" x2="714.90" y2="487.40" stroke="#2f3349" stroke-width="0.8" />
<line x1="730.60" y1="457.20" x2="730.60" y2="487.40" stroke="#2f3349" stroke-width="0.8" />
<line x1="760.40" y1="457.20" x2="760.40" y2="487.40" stroke="#2f3349" stroke-width="0.8" />
<circle cx="633.80" cy="469.00" r="3.70" fill="none" stroke="#2f3349" stroke-width="0.75"/>
<circle cx="633.80" cy="479.10" r="3.70" fill="none" stroke="#2f3349" stroke-width="0.75"/>
<circle cx="643.70" cy="469.00" r="3.70" fill="none" stroke="#2f3349" stroke-width="0.75"/>
<circle cx="643.70" cy="479.10" r="3.70" fill="none" stroke="#2f3349" stroke-width="0.75"/>
<line x1="650.60" y1="474.80" x2="650.60" y2="482.40" stroke="#2f3349" stroke-width="0.9" />
<line x1="650.60" y1="472.20" x2="650.60" y2="473.20" stroke="#2f3349" stroke-width="0.9" />
<rect x="687.40" y="463.90" width="25.70" height="21.50" fill="none" stroke="#2f3349" stroke-width="0.8" rx="0"/>
<rect x="688.70" y="465.20" width="23.10" height="18.90" fill="none" stroke="#2f3349" stroke-width="0.5" rx="0"/>
<path d="M 700.3 461.4 L 700.3 470.5 M 697.6 462.2 L 703 462.2" fill="none" stroke="#2f3349" stroke-width="1.0" />
<circle cx="700.30" cy="472.30" r="0.80" fill="#2f3349" stroke="#2f3349" stroke-width="0.3"/>
<line x1="770.60" y1="472.40" x2="780.20" y2="472.40" stroke="#2f3349" stroke-width="0.6" />
<line x1="771.24" y1="470.00" x2="779.56" y2="474.80" stroke="#2f3349" stroke-width="0.6" />
<line x1="773.00" y1="468.24" x2="777.80" y2="476.56" stroke="#2f3349" stroke-width="0.6" />
<line x1="775.40" y1="467.60" x2="775.40" y2="477.20" stroke="#2f3349" stroke-width="0.6" />
<line x1="777.80" y1="468.24" x2="773.00" y2="476.56" stroke="#2f3349" stroke-width="0.6" />
<line x1="779.56" y1="470.00" x2="771.24" y2="474.80" stroke="#2f3349" stroke-width="0.6" />
<text x="664.68" y="507.00" font-size="14.00" textLength="23.80" lengthAdjust="spacingAndGlyphs" fill="#222a42" stroke="#222a42" stroke-width="0.18" >15,4</text>
<rect x="610.80" y="514.20" width="116.60" height="96.20" fill="none" stroke="#f0ddd5" stroke-width="0.7" rx="0"/>
<path d="M 610.8 530 L 640 514.2 M 727.4 530 L 698 514.2 M 610.8 594 L 640 610.4 M 727.4 594 L 698 610.4 M 640 514.2 L 669 530 L 698 514.2 M 640 610.4 L 669 596 L 698 610.4 M 610.8 545 L 623 538 M 727.4 545 L 715 538 M 610.8 580 L 623 588 M 727.4 580 L 715 588 M 727.4 562 L 715 555 M 727.4 562 L 715 570 M 610.8 562 L 623 555 M 610.8 562 L 623 570" fill="none" stroke="#f0ddd5" stroke-width="0.7" />
<rect x="623.20" y="542.20" width="91.50" height="42.70" fill="#fee9dd" stroke="#2f3349" stroke-width="0.8" rx="0"/>
<path d="M 629.90 542.20 L 629.90 534.40 M 649.50 542.20 L 649.50 534.40" fill="none" stroke="#2f3349" stroke-width="0.8" />
<path d="M 631.40 542.20 L 631.40 534.40 M 648.00 542.20 L 648.00 534.40" fill="none" stroke="#2f3349" stroke-width="0.6" />
<path d="M 627.30 534.40 Q 626.50 532.20 628.70 531.40 Q 639.70 527.80 650.70 531.40 Q 652.90 532.20 652.10 534.40 Q 639.70 532.60 627.30 534.40 Z" fill="none" stroke="#2f3349" stroke-width="0.8" />
<path d="M 629.90 584.90 L 629.90 592.70 M 649.50 584.90 L 649.50 592.70" fill="none" stroke="#2f3349" stroke-width="0.8" />
<path d="M 631.40 584.90 L 631.40 592.70 M 648.00 584.90 L 648.00 592.70" fill="none" stroke="#2f3349" stroke-width="0.6" />
<path d="M 627.30 592.70 Q 626.50 594.90 628.70 595.70 Q 639.70 599.30 650.70 595.70 Q 652.90 594.90 652.10 592.70 Q 639.70 594.50 627.30 592.70 Z" fill="none" stroke="#2f3349" stroke-width="0.8" />
<path d="M 658.50 542.20 L 658.50 534.40 M 678.10 542.20 L 678.10 534.40" fill="none" stroke="#2f3349" stroke-width="0.8" />
<path d="M 660.00 542.20 L 660.00 534.40 M 676.60 542.20 L 676.60 534.40" fill="none" stroke="#2f3349" stroke-width="0.6" />
<path d="M 655.90 534.40 Q 655.10 532.20 657.30 531.40 Q 668.30 527.80 679.30 531.40 Q 681.50 532.20 680.70 534.40 Q 668.30 532.60 655.90 534.40 Z" fill="none" stroke="#2f3349" stroke-width="0.8" />
<path d="M 658.50 584.90 L 658.50 592.70 M 678.10 584.90 L 678.10 592.70" fill="none" stroke="#2f3349" stroke-width="0.8" />
<path d="M 660.00 584.90 L 660.00 592.70 M 676.60 584.90 L 676.60 592.70" fill="none" stroke="#2f3349" stroke-width="0.6" />
<path d="M 655.90 592.70 Q 655.10 594.90 657.30 595.70 Q 668.30 599.30 679.30 595.70 Q 681.50 594.90 680.70 592.70 Q 668.30 594.50 655.90 592.70 Z" fill="none" stroke="#2f3349" stroke-width="0.8" />
<path d="M 687.80 542.20 L 687.80 534.40 M 707.40 542.20 L 707.40 534.40" fill="none" stroke="#2f3349" stroke-width="0.8" />
<path d="M 689.30 542.20 L 689.30 534.40 M 705.90 542.20 L 705.90 534.40" fill="none" stroke="#2f3349" stroke-width="0.6" />
<path d="M 685.20 534.40 Q 684.40 532.20 686.60 531.40 Q 697.60 527.80 708.60 531.40 Q 710.80 532.20 710.00 534.40 Q 697.60 532.60 685.20 534.40 Z" fill="none" stroke="#2f3349" stroke-width="0.8" />
<path d="M 687.80 584.90 L 687.80 592.70 M 707.40 584.90 L 707.40 592.70" fill="none" stroke="#2f3349" stroke-width="0.8" />
<path d="M 689.30 584.90 L 689.30 592.70 M 705.90 584.90 L 705.90 592.70" fill="none" stroke="#2f3349" stroke-width="0.6" />
<path d="M 685.20 592.70 Q 684.40 594.90 686.60 595.70 Q 697.60 599.30 708.60 595.70 Q 710.80 594.90 710.00 592.70 Q 697.60 594.50 685.20 592.70 Z" fill="none" stroke="#2f3349" stroke-width="0.8" />
<rect x="741.40" y="519.20" width="47.80" height="86.00" fill="none" stroke="#2f3349" stroke-width="0.8" rx="0"/>
<rect x="743.10" y="524.30" width="40.90" height="75.90" fill="none" stroke="#2f3349" stroke-width="0.8" rx="0"/>
<line x1="741.40" y1="562.30" x2="784.00" y2="562.30" stroke="#2f3349" stroke-width="0.8" />
<rect x="773.30" y="525.80" width="9.70" height="35.60" fill="none" stroke="#2f3349" stroke-width="0.8" rx="3.5"/>
<rect x="773.30" y="563.20" width="9.70" height="35.80" fill="none" stroke="#2f3349" stroke-width="0.8" rx="3.5"/>
<line x1="595.50" y1="537.30" x2="595.50" y2="590.40" stroke="#857f8c" stroke-width="1.7" />
<path d="M 594.3 537.4 Q 592.6 563.8 594.3 590.3" fill="none" stroke="#2f3349" stroke-width="0.6" />
<g transform="translate(608.80,611.00) scale(1.0)"><g transform="rotate(-130)"><ellipse cx="7.75" cy="0" rx="6.75" ry="4.80" fill="#e9ecf2" stroke="#2f3349" stroke-width="0.9"/><path d="M 1 0 L 13.50 0 M 4.05 -3.84 L 5.67 0 L 4.05 3.84 M 6.75 -4.56 L 8.37 0 L 6.75 4.56 M 9.72 -3.84 L 11.34 0 L 9.72 3.84" stroke="#2f3349" stroke-width="0.75" fill="none"/></g><g transform="rotate(195)"><ellipse cx="8.00" cy="0" rx="7.00" ry="3.60" fill="#e9ecf2" stroke="#2f3349" stroke-width="0.9"/><path d="M 1 0 L 14.00 0 M 4.20 -2.88 L 5.88 0 L 4.20 2.88 M 7.00 -3.42 L 8.68 0 L 7.00 3.42 M 10.08 -2.88 L 11.76 0 L 10.08 2.88" stroke="#2f3349" stroke-width="0.75" fill="none"/></g><g transform="rotate(150)"><ellipse cx="7.75" cy="0" rx="6.75" ry="4.00" fill="#e9ecf2" stroke="#2f3349" stroke-width="0.9"/><path d="M 1 0 L 13.50 0 M 4.05 -3.20 L 5.67 0 L 4.05 3.20 M 6.75 -3.80 L 8.37 0 L 6.75 3.80 M 9.72 -3.20 L 11.34 0 L 9.72 3.20" stroke="#2f3349" stroke-width="0.75" fill="none"/></g><g transform="rotate(122)"><ellipse cx="7.25" cy="0" rx="6.25" ry="3.60" fill="#e9ecf2" stroke="#2f3349" stroke-width="0.9"/><path d="M 1 0 L 12.50 0 M 3.75 -2.88 L 5.25 0 L 3.75 2.88 M 6.25 -3.42 L 7.75 0 L 6.25 3.42 M 9.00 -2.88 L 10.50 0 L 9.00 2.88" stroke="#2f3349" stroke-width="0.75" fill="none"/></g><g transform="rotate(88)"><ellipse cx="6.75" cy="0" rx="5.75" ry="2.60" fill="#e9ecf2" stroke="#2f3349" stroke-width="0.9"/><path d="M 1 0 L 11.50 0 M 3.45 -2.08 L 4.83 0 L 3.45 2.08 M 5.75 -2.47 L 7.13 0 L 5.75 2.47 M 8.28 -2.08 L 9.66 0 L 8.28 2.08" stroke="#2f3349" stroke-width="0.75" fill="none"/></g><g transform="rotate(30)"><ellipse cx="8.00" cy="0" rx="7.00" ry="3.60" fill="#e9ecf2" stroke="#2f3349" stroke-width="0.9"/><path d="M 1 0 L 14.00 0 M 4.20 -2.88 L 5.88 0 L 4.20 2.88 M 7.00 -3.42 L 8.68 0 L 7.00 3.42 M 10.08 -2.88 L 11.76 0 L 10.08 2.88" stroke="#2f3349" stroke-width="0.75" fill="none"/></g><g transform="rotate(-40)"><ellipse cx="8.25" cy="0" rx="7.25" ry="3.40" fill="#e9ecf2" stroke="#2f3349" stroke-width="0.9"/><path d="M 1 0 L 14.50 0 M 4.35 -2.72 L 6.09 0 L 4.35 2.72 M 7.25 -3.23 L 8.99 0 L 7.25 3.23 M 10.44 -2.72 L 12.18 0 L 10.44 2.72" stroke="#2f3349" stroke-width="0.75" fill="none"/></g><g transform="rotate(-75)"><ellipse cx="7.75" cy="0" rx="6.75" ry="2.60" fill="#e9ecf2" stroke="#2f3349" stroke-width="0.9"/><path d="M 1 0 L 13.50 0 M 4.05 -2.08 L 5.67 0 L 4.05 2.08 M 6.75 -2.47 L 8.37 0 L 6.75 2.47 M 9.72 -2.08 L 11.34 0 L 9.72 2.08" stroke="#2f3349" stroke-width="0.75" fill="none"/></g><circle cx="0" cy="0" r="2.4" fill="#3e4660" stroke="#2f3349" stroke-width="0.6"/><circle cx="0.3" cy="-0.2" r="0.9" fill="#f4f4f8"/></g>
<line x1="753.40" y1="626.30" x2="773.60" y2="626.30" stroke="#6f7389" stroke-width="1.8" />
<line x1="763.40" y1="626.30" x2="763.40" y2="630.00" stroke="#6f7389" stroke-width="0.9" />
<rect x="601.70" y="630.40" width="126.20" height="3.00" fill="#ecdcd8" stroke="#8a8c9c" stroke-width="0.6" rx="0"/>
<rect x="634.80" y="630.40" width="3.30" height="3.00" fill="#ffffff" stroke="#8a8c9c" stroke-width="0.6" rx="0"/>
<rect x="678.60" y="630.40" width="2.60" height="3.00" fill="#ffffff" stroke="#8a8c9c" stroke-width="0.6" rx="0"/>
<rect x="682.60" y="630.40" width="2.60" height="3.00" fill="#ffffff" stroke="#8a8c9c" stroke-width="0.6" rx="0"/>
<rect x="725.40" y="630.40" width="2.50" height="20.40" fill="#dcd6d9" stroke="#8a8c9c" stroke-width="0.6" rx="0"/>
<rect x="725.40" y="630.40" width="2.50" height="3.00" fill="#ffffff" stroke="#8a8c9c" stroke-width="0.6" rx="0"/>
<rect x="725.40" y="647.80" width="2.50" height="3.00" fill="#ffffff" stroke="#8a8c9c" stroke-width="0.6" rx="0"/>
<rect x="602.00" y="633.70" width="36.70" height="71.30" fill="none" stroke="#2f3349" stroke-width="0.8" rx="0"/>
<path d="M 638.7 656.3 L 648 656.3 Q 652.5 656.3 652.5 661 L 652.5 680.6 Q 652.5 685.3 648 685.3 L 638.7 685.3" fill="none" stroke="#2f3349" stroke-width="0.8" />
<path d="M 638.7 658.3 L 646.5 658.3 Q 650 658.3 650 662 L 650 679.6 Q 650 683.3 646.5 683.3 L 638.7 683.3" fill="none" stroke="#2f3349" stroke-width="0.7" />
<path d="M 652.5 669.3 L 654 669.3 L 654 672.3 L 652.5 672.3" fill="none" stroke="#2f3349" stroke-width="0.7" />
<rect x="610.50" y="661.30" width="18.70" height="18.70" fill="none" stroke="#2f3349" stroke-width="0.9" rx="0"/>
<rect x="611.80" y="662.60" width="6.00" height="16.10" fill="none" stroke="#2f3349" stroke-width="0.6" rx="0"/>
<line x1="618.60" y1="663.20" x2="628.40" y2="663.20" stroke="#2f3349" stroke-width="0.6" />
<line x1="618.60" y1="665.70" x2="628.40" y2="665.70" stroke="#2f3349" stroke-width="0.6" />
<line x1="618.60" y1="668.20" x2="628.40" y2="668.20" stroke="#2f3349" stroke-width="0.6" />
<line x1="618.60" y1="670.70" x2="628.40" y2="670.70" stroke="#2f3349" stroke-width="0.6" />
<line x1="618.60" y1="673.20" x2="628.40" y2="673.20" stroke="#2f3349" stroke-width="0.6" />
<line x1="618.60" y1="675.70" x2="628.40" y2="675.70" stroke="#2f3349" stroke-width="0.6" />
<line x1="618.60" y1="678.20" x2="628.40" y2="678.20" stroke="#2f3349" stroke-width="0.6" />
<rect x="622.80" y="668.00" width="4.40" height="5.40" fill="#fee9dd" stroke="#2f3349" stroke-width="0.6" rx="0"/>
<circle cx="622.50" cy="690.80" r="3.30" fill="none" stroke="#2f3349" stroke-width="0.8"/>
<circle cx="608.10" cy="698.00" r="1.40" fill="none" stroke="#2f3349" stroke-width="0.8"/>
<line x1="619.60" y1="692.30" x2="609.40" y2="697.40" stroke="#2f3349" stroke-width="0.8" />
<text x="671.74" y="676.70" font-size="14.00" textLength="14.27" lengthAdjust="spacingAndGlyphs" fill="#222a42" stroke="#222a42" stroke-width="0.18" >4,1</text>
<text x="722.19" y="676.70" font-size="14.00" textLength="14.95" lengthAdjust="spacingAndGlyphs" fill="#222a42" stroke="#222a42" stroke-width="0.18" >1,7</text>
<line x1="725.60" y1="693.80" x2="725.60" y2="715.00" stroke="#8a8c9c" stroke-width="0.6" />
<line x1="727.60" y1="693.80" x2="727.60" y2="715.00" stroke="#8a8c9c" stroke-width="0.6" />
<line x1="726.60" y1="693.80" x2="703.90" y2="655.60" stroke="#4f5b75" stroke-width="2.0" stroke-linecap="butt"/>
<path d="M 703.90 655.60 A 44.44 44.44 0 0 1 725.20 650.40" fill="none" stroke="#6a738a" stroke-width="0.6" stroke-dasharray="1 1.2"/>
<circle cx="726.60" cy="693.80" r="1.20" fill="#ffffff" stroke="#8a8c9c" stroke-width="0.6"/>
<rect x="742.40" y="646.90" width="35.30" height="15.60" fill="none" stroke="#2f3349" stroke-width="0.8" rx="0"/>
<path d="M 742.4 648.4 L 740.6 648.4 Q 739.8 648.4 739.8 649.4 L 739.8 653.2 Q 739.8 654.2 740.6 654.2 L 742.4 654.2" fill="none" stroke="#2f3349" stroke-width="0.8" />
<g transform="translate(750.20,687.20) rotate(180) scale(0.95)"><g transform="rotate(0)"><path d="M 1.5 0 Q 8.25 -4.16 15.00 0 Q 8.25 4.16 1.5 0 Z" fill="#f4f1f3" stroke="#2f3349" stroke-width="0.8"/><path d="M 6.75 -1.95 Q 10.50 -2.60 15.00 0 L 9.00 0 Z" fill="#2f3349" stroke="none" opacity="0.85"/></g><g transform="rotate(12)"><path d="M 1.5 0 Q 9.08 -4.48 16.50 0 Q 9.08 4.48 1.5 0 Z" fill="#f4f1f3" stroke="#2f3349" stroke-width="0.8"/><path d="M 7.42 -2.10 Q 11.55 -2.80 16.50 0 L 9.90 0 Z" fill="#2f3349" stroke="none" opacity="0.85"/></g><g transform="rotate(-40)"><path d="M 1.5 0 Q 8.25 -3.84 15.00 0 Q 8.25 3.84 1.5 0 Z" fill="#f4f1f3" stroke="#2f3349" stroke-width="0.8"/><path d="M 6.75 -1.80 Q 10.50 -2.40 15.00 0 L 9.00 0 Z" fill="#2f3349" stroke="none" opacity="0.85"/></g><g transform="rotate(-68)"><path d="M 1.5 0 Q 6.60 -3.52 12.00 0 Q 6.60 3.52 1.5 0 Z" fill="#f4f1f3" stroke="#2f3349" stroke-width="0.8"/><path d="M 5.40 -1.65 Q 8.40 -2.20 12.00 0 L 7.20 0 Z" fill="#2f3349" stroke="none" opacity="0.85"/></g><g transform="rotate(-100)"><path d="M 1.5 0 Q 6.60 -3.52 12.00 0 Q 6.60 3.52 1.5 0 Z" fill="#f4f1f3" stroke="#2f3349" stroke-width="0.8"/><path d="M 5.40 -1.65 Q 8.40 -2.20 12.00 0 L 7.20 0 Z" fill="#2f3349" stroke="none" opacity="0.85"/></g><g transform="rotate(-130)"><path d="M 1.5 0 Q 5.50 -3.84 10.00 0 Q 5.50 3.84 1.5 0 Z" fill="#f4f1f3" stroke="#2f3349" stroke-width="0.8"/><path d="M 4.50 -1.80 Q 7.00 -2.40 10.00 0 L 6.00 0 Z" fill="#2f3349" stroke="none" opacity="0.85"/></g><g transform="rotate(-170)"><path d="M 1.5 0 Q 6.60 -3.52 12.00 0 Q 6.60 3.52 1.5 0 Z" fill="#f4f1f3" stroke="#2f3349" stroke-width="0.8"/><path d="M 5.40 -1.65 Q 8.40 -2.20 12.00 0 L 7.20 0 Z" fill="#2f3349" stroke="none" opacity="0.85"/></g><g transform="rotate(170)"><path d="M 1.5 0 Q 7.70 -3.20 14.00 0 Q 7.70 3.20 1.5 0 Z" fill="#f4f1f3" stroke="#2f3349" stroke-width="0.8"/><path d="M 6.30 -1.50 Q 9.80 -2.00 14.00 0 L 8.40 0 Z" fill="#2f3349" stroke="none" opacity="0.85"/></g><g transform="rotate(150)"><path d="M 1.5 0 Q 5.50 -3.84 10.00 0 Q 5.50 3.84 1.5 0 Z" fill="#f4f1f3" stroke="#2f3349" stroke-width="0.8"/><path d="M 4.50 -1.80 Q 7.00 -2.40 10.00 0 L 6.00 0 Z" fill="#2f3349" stroke="none" opacity="0.85"/></g><g transform="rotate(120)"><path d="M 1.5 0 Q 7.70 -4.16 14.00 0 Q 7.70 4.16 1.5 0 Z" fill="#f4f1f3" stroke="#2f3349" stroke-width="0.8"/><path d="M 6.30 -1.95 Q 9.80 -2.60 14.00 0 L 8.40 0 Z" fill="#2f3349" stroke="none" opacity="0.85"/></g><g transform="rotate(85)"><path d="M 1.5 0 Q 8.53 -4.16 15.50 0 Q 8.53 4.16 1.5 0 Z" fill="#f4f1f3" stroke="#2f3349" stroke-width="0.8"/><path d="M 6.98 -1.95 Q 10.85 -2.60 15.50 0 L 9.30 0 Z" fill="#2f3349" stroke="none" opacity="0.85"/></g><g transform="rotate(55)"><path d="M 1.5 0 Q 6.60 -3.52 12.00 0 Q 6.60 3.52 1.5 0 Z" fill="#f4f1f3" stroke="#2f3349" stroke-width="0.8"/><path d="M 5.40 -1.65 Q 8.40 -2.20 12.00 0 L 7.20 0 Z" fill="#2f3349" stroke="none" opacity="0.85"/></g><g transform="rotate(-15)"><path d="M 1.5 0 Q 5.50 -3.20 10.00 0 Q 5.50 3.20 1.5 0 Z" fill="#f4f1f3" stroke="#2f3349" stroke-width="0.8"/><path d="M 4.50 -1.50 Q 7.00 -2.00 10.00 0 L 6.00 0 Z" fill="#2f3349" stroke="none" opacity="0.85"/></g><g transform="rotate(35)"><path d="M 1.5 0 Q 4.40 -3.20 8.00 0 Q 4.40 3.20 1.5 0 Z" fill="#f4f1f3" stroke="#2f3349" stroke-width="0.8"/><path d="M 3.60 -1.50 Q 5.60 -2.00 8.00 0 L 4.80 0 Z" fill="#2f3349" stroke="none" opacity="0.85"/></g><circle cx="0" cy="0" r="2.6" fill="#5b657f" stroke="#2f3349" stroke-width="0.6"/></g>
<rect x="409.60" y="539.60" width="74.40" height="29.60" fill="none" stroke="#2f3349" stroke-width="0.8" rx="0"/>
<g transform="translate(421.60,554.30) rotate(-90)"><path d="M -6.55 1.30 L 0 -2.20 L 6.55 1.30 Q 7.45 1.90 6.45 2.20 L -6.45 2.20 Q -7.45 1.90 -6.55 1.30 Z" fill="#fff4ee" stroke="#2f3349" stroke-width="0.75" stroke-linejoin="round"/><path d="M 0 -2.20 L 0 -3.10 C 1.5 -3.50 1.3 -5.10 0 -5.00 C -0.7 -4.95 -1.0 -4.55 -0.9 -4.20" fill="none" stroke="#2f3349" stroke-width="0.75" stroke-linecap="round"/></g>
<g transform="translate(431.70,554.30) rotate(-90)"><path d="M -6.55 1.30 L 0 -2.20 L 6.55 1.30 Q 7.45 1.90 6.45 2.20 L -6.45 2.20 Q -7.45 1.90 -6.55 1.30 Z" fill="#fff4ee" stroke="#2f3349" stroke-width="0.75" stroke-linejoin="round"/><path d="M 0 -2.20 L 0 -3.10 C 1.5 -3.50 1.3 -5.10 0 -5.00 C -0.7 -4.95 -1.0 -4.55 -0.9 -4.20" fill="none" stroke="#2f3349" stroke-width="0.75" stroke-linecap="round"/></g>
<g transform="translate(441.80,554.30) rotate(-90)"><path d="M -6.55 1.30 L 0 -2.20 L 6.55 1.30 Q 7.45 1.90 6.45 2.20 L -6.45 2.20 Q -7.45 1.90 -6.55 1.30 Z" fill="#fff4ee" stroke="#2f3349" stroke-width="0.75" stroke-linejoin="round"/><path d="M 0 -2.20 L 0 -3.10 C 1.5 -3.50 1.3 -5.10 0 -5.00 C -0.7 -4.95 -1.0 -4.55 -0.9 -4.20" fill="none" stroke="#2f3349" stroke-width="0.75" stroke-linecap="round"/></g>
<g transform="translate(451.90,554.30) rotate(-90)"><path d="M -6.55 1.30 L 0 -2.20 L 6.55 1.30 Q 7.45 1.90 6.45 2.20 L -6.45 2.20 Q -7.45 1.90 -6.55 1.30 Z" fill="#fff4ee" stroke="#2f3349" stroke-width="0.75" stroke-linejoin="round"/><path d="M 0 -2.20 L 0 -3.10 C 1.5 -3.50 1.3 -5.10 0 -5.00 C -0.7 -4.95 -1.0 -4.55 -0.9 -4.20" fill="none" stroke="#2f3349" stroke-width="0.75" stroke-linecap="round"/></g>
<g transform="translate(462.00,554.30) rotate(-90)"><path d="M -6.55 1.30 L 0 -2.20 L 6.55 1.30 Q 7.45 1.90 6.45 2.20 L -6.45 2.20 Q -7.45 1.90 -6.55 1.30 Z" fill="#fff4ee" stroke="#2f3349" stroke-width="0.75" stroke-linejoin="round"/><path d="M 0 -2.20 L 0 -3.10 C 1.5 -3.50 1.3 -5.10 0 -5.00 C -0.7 -4.95 -1.0 -4.55 -0.9 -4.20" fill="none" stroke="#2f3349" stroke-width="0.75" stroke-linecap="round"/></g>
<g transform="translate(472.10,554.30) rotate(-90)"><path d="M -6.55 1.30 L 0 -2.20 L 6.55 1.30 Q 7.45 1.90 6.45 2.20 L -6.45 2.20 Q -7.45 1.90 -6.55 1.30 Z" fill="#fff4ee" stroke="#2f3349" stroke-width="0.75" stroke-linejoin="round"/><path d="M 0 -2.20 L 0 -3.10 C 1.5 -3.50 1.3 -5.10 0 -5.00 C -0.7 -4.95 -1.0 -4.55 -0.9 -4.20" fill="none" stroke="#2f3349" stroke-width="0.75" stroke-linecap="round"/></g>
<rect x="570.80" y="544.20" width="12.50" height="70.80" fill="none" stroke="#2f3349" stroke-width="0.8" rx="0"/>
<line x1="567.70" y1="562.10" x2="586.40" y2="562.10" stroke="#2f3349" stroke-width="0.8" />
<line x1="567.70" y1="597.50" x2="586.40" y2="597.50" stroke="#2f3349" stroke-width="0.8" />
<rect x="409.80" y="607.30" width="100.20" height="47.10" fill="none" stroke="#2f3349" stroke-width="0.9" rx="0"/>
<rect x="411.60" y="609.40" width="96.50" height="43.10" fill="none" stroke="#2f3349" stroke-width="0.8" rx="0"/>
<line x1="411.60" y1="612.00" x2="438.10" y2="612.00" stroke="#2f3349" stroke-width="0.7" />
<line x1="411.60" y1="615.60" x2="438.10" y2="615.60" stroke="#2f3349" stroke-width="0.7" />
<line x1="411.60" y1="621.00" x2="438.10" y2="621.00" stroke="#2f3349" stroke-width="0.7" />
<line x1="411.60" y1="624.80" x2="438.10" y2="624.80" stroke="#2f3349" stroke-width="0.7" />
<line x1="411.60" y1="630.40" x2="439.59" y2="630.40" stroke="#2f3349" stroke-width="0.7" />
<line x1="411.60" y1="636.00" x2="441.98" y2="636.00" stroke="#2f3349" stroke-width="0.7" />
<line x1="411.60" y1="641.80" x2="444.45" y2="641.80" stroke="#2f3349" stroke-width="0.7" />
<line x1="411.60" y1="647.40" x2="446.83" y2="647.40" stroke="#2f3349" stroke-width="0.7" />
<path d="M 438.1 609.4 L 438.1 626.9 L 448.75 652.2" fill="none" stroke="#2f3349" stroke-width="0.8" />
<path d="M 438.1 626.9 L 456.9 645 L 449.6 652.2" fill="#fee9dd" stroke="#2f3349" stroke-width="0.8" />
<path d="M 417.8 617.4 Q 425 619.2 433.4 616.8 Q 432.2 630 433.8 643.6 Q 431.6 644.4 430.8 641.8 Q 424 642.6 417.4 644.4 Q 419.2 631 417.8 617.4 Z" fill="#fee9dd" stroke="#2f3349" stroke-width="0.8" stroke-linejoin="round"/>
<path d="M 431.2 628.5 Q 430.4 636 430.8 641.8" fill="none" stroke="#2f3349" stroke-width="0.6" />
<rect x="410.00" y="655.60" width="22.80" height="21.90" fill="none" stroke="#2f3349" stroke-width="0.8" rx="0"/>
<g transform="translate(421.40,666.60)"><g transform="rotate(-0.9)"><path d="M 1 0 Q 4.82 -3.58 9.64 0 Q 4.82 3.58 1 0 Z" fill="#dfe2ea" stroke="#2f3349" stroke-width="0.9"/><path d="M 3.37 -1.34 L 9.16 0 L 4.82 0.45 Z" fill="#2f3349"/></g><g transform="rotate(21.9)"><path d="M 1 0 Q 4.74 -3.15 9.47 0 Q 4.74 3.15 1 0 Z" fill="#dfe2ea" stroke="#2f3349" stroke-width="0.9"/><path d="M 3.32 -1.18 L 9.00 0 L 4.74 0.39 Z" fill="#2f3349"/></g><g transform="rotate(39.3)"><path d="M 1 0 Q 4.74 -3.21 9.49 0 Q 4.74 3.21 1 0 Z" fill="#dfe2ea" stroke="#2f3349" stroke-width="0.9"/><path d="M 3.32 -1.20 L 9.01 0 L 4.74 0.40 Z" fill="#2f3349"/></g><g transform="rotate(72.8)"><path d="M 1 0 Q 4.09 -2.79 8.17 0 Q 4.09 2.79 1 0 Z" fill="#dfe2ea" stroke="#2f3349" stroke-width="0.9"/><path d="M 2.86 -1.05 L 7.76 0 L 4.09 0.35 Z" fill="#2f3349"/></g><g transform="rotate(82.6)"><path d="M 1 0 Q 5.21 -3.29 10.43 0 Q 5.21 3.29 1 0 Z" fill="#dfe2ea" stroke="#2f3349" stroke-width="0.9"/><path d="M 3.65 -1.23 L 9.90 0 L 5.21 0.41 Z" fill="#2f3349"/></g><g transform="rotate(104.3)"><path d="M 1 0 Q 5.48 -3.63 10.97 0 Q 5.48 3.63 1 0 Z" fill="#dfe2ea" stroke="#2f3349" stroke-width="0.9"/><path d="M 3.84 -1.36 L 10.42 0 L 5.48 0.45 Z" fill="#2f3349"/></g><g transform="rotate(137.8)"><path d="M 1 0 Q 4.91 -2.60 9.81 0 Q 4.91 2.60 1 0 Z" fill="#dfe2ea" stroke="#2f3349" stroke-width="0.9"/><path d="M 3.43 -0.98 L 9.32 0 L 4.91 0.33 Z" fill="#2f3349"/></g><g transform="rotate(148.8)"><path d="M 1 0 Q 4.77 -2.48 9.54 0 Q 4.77 2.48 1 0 Z" fill="#dfe2ea" stroke="#2f3349" stroke-width="0.9"/><path d="M 3.34 -0.93 L 9.06 0 L 4.77 0.31 Z" fill="#2f3349"/></g><g transform="rotate(174.4)"><path d="M 1 0 Q 4.32 -2.44 8.64 0 Q 4.32 2.44 1 0 Z" fill="#dfe2ea" stroke="#2f3349" stroke-width="0.9"/><path d="M 3.02 -0.91 L 8.21 0 L 4.32 0.30 Z" fill="#2f3349"/></g><g transform="rotate(201.9)"><path d="M 1 0 Q 4.63 -3.48 9.26 0 Q 4.63 3.48 1 0 Z" fill="#dfe2ea" stroke="#2f3349" stroke-width="0.9"/><path d="M 3.24 -1.30 L 8.80 0 L 4.63 0.43 Z" fill="#2f3349"/></g><g transform="rotate(225.3)"><path d="M 1 0 Q 4.95 -3.04 9.89 0 Q 4.95 3.04 1 0 Z" fill="#dfe2ea" stroke="#2f3349" stroke-width="0.9"/><path d="M 3.46 -1.14 L 9.40 0 L 4.95 0.38 Z" fill="#2f3349"/></g><g transform="rotate(250.4)"><path d="M 1 0 Q 4.66 -2.76 9.32 0 Q 4.66 2.76 1 0 Z" fill="#dfe2ea" stroke="#2f3349" stroke-width="0.9"/><path d="M 3.26 -1.03 L 8.85 0 L 4.66 0.34 Z" fill="#2f3349"/></g><g transform="rotate(279.0)"><path d="M 1 0 Q 5.51 -3.48 11.01 0 Q 5.51 3.48 1 0 Z" fill="#dfe2ea" stroke="#2f3349" stroke-width="0.9"/><path d="M 3.85 -1.30 L 10.46 0 L 5.51 0.43 Z" fill="#2f3349"/></g><g transform="rotate(296.2)"><path d="M 1 0 Q 4.43 -2.69 8.87 0 Q 4.43 2.69 1 0 Z" fill="#dfe2ea" stroke="#2f3349" stroke-width="0.9"/><path d="M 3.10 -1.01 L 8.42 0 L 4.43 0.34 Z" fill="#2f3349"/></g><g transform="rotate(311.2)"><path d="M 1 0 Q 4.05 -3.38 8.10 0 Q 4.05 3.38 1 0 Z" fill="#dfe2ea" stroke="#2f3349" stroke-width="0.9"/><path d="M 2.83 -1.27 L 7.69 0 L 4.05 0.42 Z" fill="#2f3349"/></g><g transform="rotate(335.7)"><path d="M 1 0 Q 5.27 -2.89 10.54 0 Q 5.27 2.89 1 0 Z" fill="#dfe2ea" stroke="#2f3349" stroke-width="0.9"/><path d="M 3.69 -1.09 L 10.01 0 L 5.27 0.36 Z" fill="#2f3349"/></g><circle r="2.2" fill="#2f3349"/></g>
<path d="M 411.50 701.20 Q 415.99 695.80 420.48 701.20 Q 424.96 706.60 429.45 701.20 Q 433.94 695.80 438.43 701.20 Q 442.91 706.60 447.40 701.20 Q 451.89 695.80 456.38 701.20 Q 460.86 706.60 465.35 701.20 Q 469.84 695.80 474.33 701.20 Q 478.81 706.60 483.30 701.20 Q 487.79 695.80 492.28 701.20 Q 496.76 706.60 501.25 701.20 Q 505.74 695.80 510.23 701.20 Q 514.71 706.60 519.20 701.20 Q 523.69 695.80 528.18 701.20 Q 532.66 706.60 537.15 701.20 Q 541.64 695.80 546.13 701.20 Q 550.61 706.60 555.10 701.20 Q 559.59 695.80 564.08 701.20 Q 568.56 706.60 573.05 701.20 Q 577.54 695.80 582.03 701.20 Q 583.11 706.60 584.20 701.20 " fill="none" stroke="#2f3349" stroke-width="0.8" />
<rect x="557.50" y="622.50" width="28.40" height="72.80" fill="none" stroke="#2f3349" stroke-width="0.8" rx="0"/>
<path d="M 557.5 646 A 12.7 12.7 0 0 0 557.5 671.5" fill="none" stroke="#2f3349" stroke-width="0.8" />
<path d="M 548.1 646.2 Q 539.5 658.75 548.1 671.3 Q 547.2 672.6 546 672 Q 534.6 658.75 546 645.5 Q 547.2 644.9 548.1 646.2 Z" fill="#fdf1ea" stroke="#2f3349" stroke-width="0.8" />
<circle cx="579.80" cy="688.60" r="2.60" fill="#dfe2ea" stroke="#2f3349" stroke-width="0.8"/>
<path d="M 577.98 689.38 L 581.36 686.78 M 579.28 690.68 L 582.14 688.34" fill="none" stroke="#2f3349" stroke-width="0.9" />
<text x="498.71" y="592.80" font-size="14.00" textLength="13.15" lengthAdjust="spacingAndGlyphs" fill="#222a42" stroke="#222a42" stroke-width="0.18" >13</text>
<rect x="240.00" y="577.50" width="102.50" height="84.50" fill="none" stroke="#f0ddd5" stroke-width="0.7" rx="0"/>
<path d="M 240 600 L 262 590 L 240 580 M 248 577.5 L 270 590 L 255 600 L 268.3 610 M 240 640 L 262 650 L 248 662 M 270 662 L 300 648 L 330 662 M 342.5 600 L 325 590 L 342.5 580 M 342.5 640 L 325 650 L 342.5 660 M 322.5 610 L 335 600 M 268.3 640 L 255 648" fill="none" stroke="#f0ddd5" stroke-width="0.7" />
<path d="M 197.50 552.90 Q 203.10 557.50 197.50 562.10 Q 191.90 566.70 197.50 571.30 Q 203.10 575.90 197.50 580.50 Q 191.90 585.10 197.50 589.70 Q 203.10 594.30 197.50 598.90 Q 191.90 603.50 197.50 608.10 Q 203.10 612.70 197.50 617.30 Q 191.90 621.90 197.50 626.50 Q 203.10 631.10 197.50 635.70 Q 191.90 640.30 197.50 644.90 Q 203.10 649.50 197.50 654.10 Q 191.90 658.70 197.50 663.30 Q 203.10 667.90 197.50 672.50 Q 191.90 677.10 197.50 681.70 Q 203.10 686.30 197.50 690.90 Q 191.90 695.50 197.50 700.10 Q 203.10 701.95 197.50 703.80 " fill="none" stroke="#2f3349" stroke-width="0.8" />
<rect x="200.00" y="551.60" width="68.30" height="29.60" fill="#fee9dd" stroke="#2f3349" stroke-width="0.8" rx="0"/>
<circle cx="218.70" cy="563.00" r="3.10" fill="none" stroke="#2f3349" stroke-width="0.8"/>
<circle cx="204.70" cy="555.90" r="1.30" fill="none" stroke="#2f3349" stroke-width="0.8"/>
<line x1="205.80" y1="556.50" x2="216.00" y2="561.60" stroke="#2f3349" stroke-width="0.8" />
<circle cx="261.50" cy="557.90" r="2.70" fill="#dfe2ea" stroke="#2f3349" stroke-width="0.8"/>
<path d="M 259.61 558.71 L 263.12 556.01 M 260.96 560.06 L 263.93 557.63" fill="none" stroke="#2f3349" stroke-width="0.9" />
<path d="M 213.6 581.2 A 12.7 12.7 0 1 0 236.4 581.2" fill="none" stroke="#2f3349" stroke-width="0.8" />
<path d="M 212.3 596.2 Q 225 606.6 237.9 596.2 Q 239.3 597 238.6 598.2 Q 225 609.8 211.6 598.2 Q 210.9 597 212.3 596.2 Z" fill="#fdf1ea" stroke="#2f3349" stroke-width="0.8" />
<rect x="268.30" y="540.30" width="54.20" height="100.00" fill="#fee9dd" stroke="#2f3349" stroke-width="0.9" rx="0"/>
<line x1="271.70" y1="540.30" x2="271.70" y2="640.30" stroke="#2f3349" stroke-width="0.8" />
<line x1="268.30" y1="638.00" x2="314.20" y2="638.00" stroke="#2f3349" stroke-width="0.8" />
<rect x="314.20" y="543.00" width="2.40" height="37.00" fill="none" stroke="#2f3349" stroke-width="0.8" rx="0"/>
<line x1="314.20" y1="580.00" x2="314.20" y2="638.00" stroke="#2f3349" stroke-width="0.8" />
<line x1="316.60" y1="580.00" x2="316.60" y2="620.00" stroke="#2f3349" stroke-width="0.8" />
<rect x="314.60" y="620.00" width="7.90" height="17.60" fill="none" stroke="#2f3349" stroke-width="0.8" rx="0"/>
<line x1="316.60" y1="620.00" x2="316.60" y2="637.60" stroke="#2f3349" stroke-width="0.6" />
<line x1="318.60" y1="620.00" x2="318.60" y2="637.60" stroke="#2f3349" stroke-width="0.6" />
<line x1="320.60" y1="620.00" x2="320.60" y2="637.60" stroke="#2f3349" stroke-width="0.6" />
<path d="M 271.7 564.7 L 298.3 564.7 L 314.2 580" fill="none" stroke="#2f3349" stroke-width="0.8" />
<path d="M 300 567.5 L 300 578.3 L 312.5 578.3" fill="none" stroke="#2f3349" stroke-width="0.8" />
<path d="M 279.4 543 Q 292 545 304.8 542.8 Q 303.4 552.5 305 562.3 Q 292 560.6 279.2 562.5 Q 280.8 552.5 279.4 543 Z" fill="none" stroke="#2f3349" stroke-width="0.8" stroke-linejoin="round"/>
<path d="M 281 559.6 Q 292 558 303 560" fill="none" stroke="#2f3349" stroke-width="0.6" />
<rect x="268.30" y="540.30" width="3.40" height="3.10" fill="none" stroke="#2f3349" stroke-width="0.6" rx="0"/>
<rect x="268.30" y="637.00" width="3.40" height="3.30" fill="none" stroke="#2f3349" stroke-width="0.6" rx="0"/>
<g transform="translate(297.00,622.50) rotate(20)" fill="#fee9dd" stroke="#2f3349" stroke-width="0.8" stroke-linejoin="round"><ellipse cx="6" cy="-9" rx="3" ry="5.6" transform="rotate(25 6 -9)"/><ellipse cx="9.5" cy="-1" rx="5.4" ry="2.8" transform="rotate(-15 9.5 -1)"/><ellipse cx="9" cy="6.5" rx="5.6" ry="2.8" transform="rotate(25 9 6.5)"/><ellipse cx="2" cy="9.5" rx="2.9" ry="5.2" transform="rotate(-20 2 9.5)"/><ellipse cx="3" cy="0.5" rx="6.2" ry="7.2"/><circle cx="-9.2" cy="-5.2" r="2.4"/><circle cx="-9.2" cy="5.2" r="2.4"/><ellipse cx="-6" cy="0" rx="5.6" ry="6.4"/><circle cx="-4.2" cy="-2.2" r="0.7" fill="#2f3349"/><circle cx="-4.2" cy="2.2" r="0.7" fill="#2f3349"/><ellipse cx="-2.2" cy="0" rx="1.5" ry="1.9"/></g>
<rect x="200.30" y="674.80" width="69.40" height="29.80" fill="#fee9dd" stroke="#2f3349" stroke-width="0.8" rx="0"/>
<circle cx="250.00" cy="692.20" r="3.30" fill="none" stroke="#2f3349" stroke-width="0.8"/>
<circle cx="263.80" cy="699.10" r="1.30" fill="none" stroke="#2f3349" stroke-width="0.8"/>
<line x1="253.00" y1="693.70" x2="262.60" y2="698.50" stroke="#2f3349" stroke-width="0.8" />
<circle cx="211.80" cy="697.30" r="2.70" fill="#dfe2ea" stroke="#2f3349" stroke-width="0.8"/>
<path d="M 209.91 698.11 L 213.42 695.41 M 211.26 699.46 L 214.23 697.03" fill="none" stroke="#2f3349" stroke-width="0.9" />
<path d="M 222.3 674.9 A 12.7 12.7 0 0 1 246.7 674.9" fill="none" stroke="#2f3349" stroke-width="0.8" />
<path d="M 221.8 667.4 Q 234.5 657 247.2 667.4 Q 248.6 666.4 247.9 665.2 Q 234.5 654 221.1 665.2 Q 220.4 666.4 221.8 667.4 Z" fill="#fdf1ea" stroke="#2f3349" stroke-width="0.8" />
<path d="M 362.4 705 L 362.4 611.3 L 405 611.3" fill="none" stroke="#2f3349" stroke-width="0.8" />
<line x1="362.40" y1="629.50" x2="405.00" y2="629.50" stroke="#2f3349" stroke-width="0.8" />
<line x1="393.00" y1="629.50" x2="393.00" y2="632.00" stroke="#2f3349" stroke-width="0.8" />
<g transform="translate(378.80,643.30) rotate(0)"><path d="M -6.20 1.10 L 0 -2.00 L 6.20 1.10 Q 7.10 1.70 6.10 2.00 L -6.10 2.00 Q -7.10 1.70 -6.20 1.10 Z" fill="#fff4ee" stroke="#2f3349" stroke-width="0.75" stroke-linejoin="round"/><path d="M 0 -2.00 L 0 -2.90 C 1.5 -3.30 1.3 -4.70 0 -4.60 C -0.7 -4.55 -1.0 -4.15 -0.9 -3.80" fill="none" stroke="#2f3349" stroke-width="0.75" stroke-linecap="round"/></g>
<g transform="translate(378.80,652.30) rotate(0)"><path d="M -6.20 1.10 L 0 -2.00 L 6.20 1.10 Q 7.10 1.70 6.10 2.00 L -6.10 2.00 Q -7.10 1.70 -6.20 1.10 Z" fill="#fff4ee" stroke="#2f3349" stroke-width="0.75" stroke-linejoin="round"/><path d="M 0 -2.00 L 0 -2.90 C 1.5 -3.30 1.3 -4.70 0 -4.60 C -0.7 -4.55 -1.0 -4.15 -0.9 -3.80" fill="none" stroke="#2f3349" stroke-width="0.75" stroke-linecap="round"/></g>
<g transform="translate(378.80,662.50) rotate(0)"><path d="M -6.20 1.10 L 0 -2.00 L 6.20 1.10 Q 7.10 1.70 6.10 2.00 L -6.10 2.00 Q -7.10 1.70 -6.20 1.10 Z" fill="#fff4ee" stroke="#2f3349" stroke-width="0.75" stroke-linejoin="round"/><path d="M 0 -2.00 L 0 -2.90 C 1.5 -3.30 1.3 -4.70 0 -4.60 C -0.7 -4.55 -1.0 -4.15 -0.9 -3.80" fill="none" stroke="#2f3349" stroke-width="0.75" stroke-linecap="round"/></g>
<g transform="translate(378.80,672.20) rotate(0)"><path d="M -6.20 1.10 L 0 -2.00 L 6.20 1.10 Q 7.10 1.70 6.10 2.00 L -6.10 2.00 Q -7.10 1.70 -6.20 1.10 Z" fill="#fff4ee" stroke="#2f3349" stroke-width="0.75" stroke-linejoin="round"/><path d="M 0 -2.00 L 0 -2.90 C 1.5 -3.30 1.3 -4.70 0 -4.60 C -0.7 -4.55 -1.0 -4.15 -0.9 -3.80" fill="none" stroke="#2f3349" stroke-width="0.75" stroke-linecap="round"/></g>
<g transform="translate(378.80,682.00) rotate(0)"><path d="M -6.20 1.10 L 0 -2.00 L 6.20 1.10 Q 7.10 1.70 6.10 2.00 L -6.10 2.00 Q -7.10 1.70 -6.20 1.10 Z" fill="#fff4ee" stroke="#2f3349" stroke-width="0.75" stroke-linejoin="round"/><path d="M 0 -2.00 L 0 -2.90 C 1.5 -3.30 1.3 -4.70 0 -4.60 C -0.7 -4.55 -1.0 -4.15 -0.9 -3.80" fill="none" stroke="#2f3349" stroke-width="0.75" stroke-linecap="round"/></g>
<g transform="translate(378.80,692.60) rotate(0)"><path d="M -6.20 1.10 L 0 -2.00 L 6.20 1.10 Q 7.10 1.70 6.10 2.00 L -6.10 2.00 Q -7.10 1.70 -6.20 1.10 Z" fill="#fff4ee" stroke="#2f3349" stroke-width="0.75" stroke-linejoin="round"/><path d="M 0 -2.00 L 0 -2.90 C 1.5 -3.30 1.3 -4.70 0 -4.60 C -0.7 -4.55 -1.0 -4.15 -0.9 -3.80" fill="none" stroke="#2f3349" stroke-width="0.75" stroke-linecap="round"/></g>
<text x="233.26" y="629.60" font-size="14.00" textLength="24.42" lengthAdjust="spacingAndGlyphs" fill="#222a42" stroke="#222a42" stroke-width="0.18" >14,9</text>
<text x="414.02" y="19.60" font-size="15.40" textLength="131.27" lengthAdjust="spacingAndGlyphs" fill="#222a42" stroke="#222a42" stroke-width="0" >улица Малышева</text>
<text x="399.14" y="952.10" font-size="15.40" textLength="161.65" lengthAdjust="spacingAndGlyphs" fill="#222a42" stroke="#222a42" stroke-width="0" >переулок Отдельный</text>
<text x="-0.08" y="0.00" font-size="15.40" textLength="118.49" lengthAdjust="spacingAndGlyphs" fill="#222a42" stroke="#222a42" stroke-width="0" transform="translate(20,539.2) rotate(-90)">улица Гагарина</text>
<text x="-0.07" y="0.00" font-size="15.40" textLength="82.59" lengthAdjust="spacingAndGlyphs" fill="#222a42" stroke="#222a42" stroke-width="0" transform="translate(940,434.2) rotate(90)">улица Мира</text>
<text x="7.04" y="102.75" font-size="22.70" textLength="97.33" lengthAdjust="spacingAndGlyphs" fill="#222a42" stroke="#222a42" stroke-width="0" >91 (88) м</text>
<text x="104.02" y="96.90" font-size="15.50" textLength="6.32" lengthAdjust="spacingAndGlyphs" fill="#222a42" stroke="#222a42" stroke-width="0" >²</text>
<text x="7.43" y="123.50" font-size="14.90" textLength="96.25" lengthAdjust="spacingAndGlyphs" fill="#222a42" stroke="#222a42" stroke-width="0" >3-комнатная</text>
<text x="7.75" y="144.00" font-size="15.00" textLength="40.42" lengthAdjust="spacingAndGlyphs" fill="#222a42" stroke="#222a42" stroke-width="0" >42,1 м</text>
<text x="47.99" y="140.00" font-size="11.00" textLength="3.50" lengthAdjust="spacingAndGlyphs" fill="#222a42" stroke="#222a42" stroke-width="0" >²</text>
<text x="7.42" y="165.00" font-size="15.00" textLength="44.19" lengthAdjust="spacingAndGlyphs" fill="#222a42" stroke="#222a42" stroke-width="0" >85,2 м</text>
<text x="51.28" y="160.80" font-size="11.00" textLength="3.61" lengthAdjust="spacingAndGlyphs" fill="#222a42" stroke="#222a42" stroke-width="0" >²</text>
<rect x="9.60" y="9.60" width="25.40" height="4.00" fill="#15233f" />
<path d="M 9.6 16.9 L 29 16.9 Q 35 16.9 35 23 L 35 31.7 L 31.25 31.7 L 31.25 24.2 Q 31.25 20.8 27.8 20.8 L 26.5 20.8 Q 24.5 20.8 24.5 22.8 L 24.5 33.3 L 20.7 34.6 L 20.7 23.6 Q 20.7 20.8 17.9 20.8 L 13.6 20.8 L 13.6 36.5 L 9.6 39.7 Z" fill="#15233f" stroke="none" stroke-width="0" />
<path d="M 915.8 30 A 14.6 14.6 0 0 0 944.6 37.5" fill="none" stroke="#f3bd4c" stroke-width="1.6" stroke-linecap="round"/>
<circle cx="930.20" cy="33.40" r="14.60" fill="none" stroke="#f4f4f4" stroke-width="0.6"/>
<text transform="translate(936.7,11.2) rotate(15)" font-size="10" text-anchor="middle" dominant-baseline="central" fill="#222a42">С</text>
<text transform="translate(909,27) rotate(15)" font-size="10" text-anchor="middle" dominant-baseline="central" fill="#222a42">З</text>
<text transform="translate(950.8,38) rotate(15)" font-size="10" text-anchor="middle" dominant-baseline="central" fill="#222a42">В</text>
<text transform="translate(924.6,55) rotate(15)" font-size="10" text-anchor="middle" dominant-baseline="central" fill="#222a42">Ю</text>
<polygon points="13.50,917.50 38.00,917.50 38.00,910.50 45.50,910.50 45.50,915.50 61.50,915.50 61.50,946.50 13.50,946.50" fill="#fde4d8" stroke="none" stroke-width="0"/>
<rect x="13.50" y="852.50" width="96.00" height="94.00" fill="none" stroke="#70747c" stroke-width="1" rx="0"/>
<line x1="61.50" y1="852.50" x2="61.50" y2="880.50" stroke="#70747c" stroke-width="1" />
<line x1="61.50" y1="915.50" x2="61.50" y2="946.50" stroke="#70747c" stroke-width="1" />
<rect x="13.50" y="880.00" width="24.50" height="37.50" fill="none" stroke="#70747c" stroke-width="1" rx="0"/>
<rect x="84.50" y="880.00" width="25.00" height="37.50" fill="none" stroke="#70747c" stroke-width="1" rx="0"/>
<path d="M 38 888.5 L 45.5 888.5 L 45.5 880.5 L 76.5 880.5 L 76.5 888.5 L 84.5 888.5 M 84.5 910.5 L 76.5 910.5 L 76.5 915.5 L 45.5 915.5 L 45.5 910.5 L 38 910.5" fill="none" stroke="#70747c" stroke-width="1" />
<polygon points="884.50,856.90 900.80,860.60 900.80,946.60 884.50,945.20" fill="#d3d7e1" stroke="#7d8292" stroke-width="0.85"/>
<polygon points="900.80,860.60 915.70,856.25 915.70,939.40 900.80,943.40" fill="#d6dae4" stroke="#7d8292" stroke-width="0.85"/>
<polygon points="884.50,856.90 899.40,852.10 915.70,856.25 900.80,860.60" fill="#dfe2ea" stroke="#7d8292" stroke-width="0.85"/>
<polygon points="899.30,943.80 911.40,948.50 911.40,952.15 899.30,947.40" fill="#ffffff" stroke="#7d8292" stroke-width="0.85"/>
<polygon points="911.40,948.50 927.40,943.00 927.40,946.70 911.40,952.15" fill="#ffffff" stroke="#7d8292" stroke-width="0.85"/>
<polygon points="927.40,943.00 932.90,943.80 932.90,947.40 927.40,946.70" fill="#ffffff" stroke="#7d8292" stroke-width="0.85"/>
<polygon points="932.90,943.80 945.30,940.85 945.30,944.50 932.90,947.40" fill="#ffffff" stroke="#7d8292" stroke-width="0.85"/>
<polygon points="899.30,943.80 915.70,939.40 919.75,940.55 924.50,938.10 945.30,940.85 932.90,943.80 927.40,943.00 911.40,948.50" fill="#ffffff" stroke="#7d8292" stroke-width="0.85"/>
<polygon points="924.10,912.00 938.00,915.70 938.00,939.75 924.10,936.50" fill="#ffffff" stroke="#7d8292" stroke-width="0.85"/>
<polygon points="938.00,915.70 947.50,912.40 947.50,939.75 938.00,939.75" fill="#ffffff" stroke="#7d8292" stroke-width="0.85"/>
<polygon points="924.10,912.00 934.00,909.10 947.50,912.40 938.00,915.70" fill="#ffffff" stroke="#7d8292" stroke-width="0.85"/>
<rect x="891.30" y="942.60" width="6.60" height="5.40" fill="#c3c7d2" stroke="#7d8292" stroke-width="0.6"/>
<rect x="893.40" y="944.00" width="3.20" height="3.60" fill="#9ea3b2" />
<rect x="898.60" y="945.60" width="4.40" height="2.80" fill="#ffffff" stroke="#7d8292" stroke-width="0.6"/>
<text x="705" y="843" font-size="46" font-weight="bold" fill="#fafafb" textLength="142" lengthAdjust="spacingAndGlyphs">ЦИАН</text>
<path d="M 647 841 L 668 811 L 689 841" fill="none" stroke="#fafafb" stroke-width="5" />
<path d="M 682 779 A 12.5 12.5 0 1 1 681.9 779 M 671 798 L 682 812 L 693 798" fill="none" stroke="#fafafb" stroke-width="4" />
</svg>
</body></html>
